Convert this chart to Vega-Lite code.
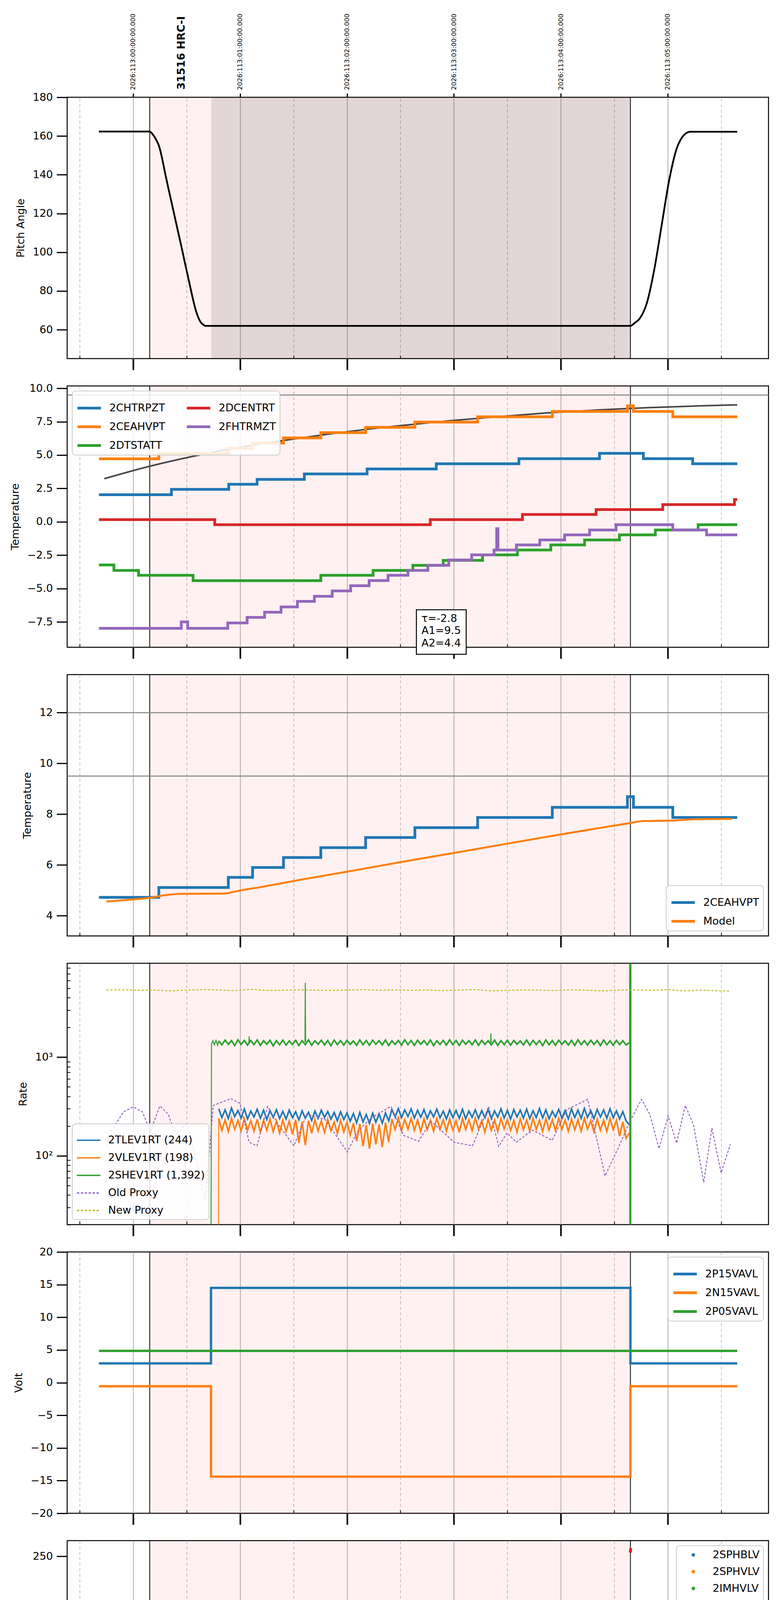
{
  "$schema": "https://vega.github.io/schema/vega-lite/v6.json",
  "description": "HRC obsid 31516 monitoring plots",
  "padding": {"left": 24, "top": 33, "right": 30, "bottom": 5},
  "background": "white",
  "spacing": 70,
  "bounds": "flush",
  "config": {
    "font": "DejaVu Sans",
    "view": {"stroke": "black", "strokeWidth": 2.5},
    "axis": {
      "domain": false, "grid": false,
      "labelFont": "DejaVu Sans", "labelFontSize": 27, "labelColor": "black", "labelPadding": 10,
      "labelFlush": false, "labelOverlap": false, "labelLimit": 400,
      "titleFont": "DejaVu Sans", "titleFontSize": 27, "titleFontWeight": "normal", "titleColor": "black", "titlePadding": 16,
      "tickColor": "black", "tickSize": 27, "tickWidth": 3
    },
    "legend": {
      "labelFont": "DejaVu Sans", "labelFontSize": 27, "labelColor": "black", "labelLimit": 1000, "labelOffset": 18,
      "padding": 10, "rowPadding": -30, "strokeColor": "#cccccc", "strokeWidth": 2,
      "fillColor": "rgba(255,255,255,0.85)", "cornerRadius": 8, "offset": 13,
      "symbolType": "stroke", "symbolStrokeWidth": 7, "symbolSize": 3600
    }
  },
  "resolve": {
    "scale": {"x": "independent", "y": "independent", "color": "independent", "strokeDash": "independent"},
    "legend": {"color": "independent", "strokeDash": "independent"}
  },
  "datasets": {
    "shade": [{"t": 0.155, "t2": 4.651}],
    "dark": [{"t": 0.731, "t2": 4.651}],
    "vl": [{"t": 0.155}, {"t": 4.651}],
    "hl2": [{"t": -0.6172, "t2": 5.9423, "v": 9.5}],
    "hl3": [{"t": -0.6172, "t2": 5.9423, "v": 12}, {"t": -0.6172, "t2": 5.9423, "v": 9.5}],
    "pitch": [
      {"t": -0.32, "v": 162.3}, {"t": 0.149, "v": 162.3}, {"t": 0.2, "v": 159.5}, {"t": 0.242, "v": 154.8},
      {"t": 0.312, "v": 137.4}, {"t": 0.382, "v": 120.0}, {"t": 0.452, "v": 102.7}, {"t": 0.521, "v": 85.3},
      {"t": 0.591, "v": 69.1}, {"t": 0.63, "v": 64.0}, {"t": 0.661, "v": 62.4}, {"t": 0.675, "v": 62.0},
      {"t": 4.651, "v": 62.0}, {"t": 4.69, "v": 63.5}, {"t": 4.735, "v": 65.6}, {"t": 4.804, "v": 73.7},
      {"t": 4.874, "v": 91.1}, {"t": 4.944, "v": 114.3}, {"t": 5.014, "v": 137.4}, {"t": 5.084, "v": 153.6},
      {"t": 5.13, "v": 159.0}, {"t": 5.154, "v": 160.6}, {"t": 5.21, "v": 162.2}, {"t": 5.65, "v": 162.2}
    ],
    "t2": [
      {"t": -0.32, "v": 2.03, "s": "2CHTRPZT"}, {"t": 0.358, "v": 2.43, "s": "2CHTRPZT"}, {"t": 0.894, "v": 2.81, "s": "2CHTRPZT"},
      {"t": 1.159, "v": 3.18, "s": "2CHTRPZT"}, {"t": 1.601, "v": 3.59, "s": "2CHTRPZT"}, {"t": 2.188, "v": 3.96, "s": "2CHTRPZT"},
      {"t": 2.835, "v": 4.35, "s": "2CHTRPZT"}, {"t": 3.608, "v": 4.73, "s": "2CHTRPZT"}, {"t": 4.362, "v": 5.13, "s": "2CHTRPZT"},
      {"t": 4.772, "v": 4.73, "s": "2CHTRPZT"}, {"t": 5.233, "v": 4.35, "s": "2CHTRPZT"}, {"t": 5.65, "v": 4.35, "s": "2CHTRPZT"},
      {"t": -0.32, "v": 4.72, "s": "2CEAHVPT"}, {"t": 0.24, "v": 5.11, "s": "2CEAHVPT"}, {"t": 0.89, "v": 5.51, "s": "2CEAHVPT"},
      {"t": 1.117, "v": 5.9, "s": "2CEAHVPT"}, {"t": 1.406, "v": 6.29, "s": "2CEAHVPT"}, {"t": 1.755, "v": 6.68, "s": "2CEAHVPT"},
      {"t": 2.174, "v": 7.08, "s": "2CEAHVPT"}, {"t": 2.635, "v": 7.47, "s": "2CEAHVPT"}, {"t": 3.222, "v": 7.87, "s": "2CEAHVPT"},
      {"t": 3.92, "v": 8.27, "s": "2CEAHVPT"}, {"t": 4.623, "v": 8.69, "s": "2CEAHVPT"}, {"t": 4.679, "v": 8.27, "s": "2CEAHVPT"},
      {"t": 5.047, "v": 7.87, "s": "2CEAHVPT"}, {"t": 5.65, "v": 7.87, "s": "2CEAHVPT"},
      {"t": -0.32, "v": -3.23, "s": "2DTSTATT"}, {"t": -0.18, "v": -3.64, "s": "2DTSTATT"}, {"t": 0.05, "v": -4.01, "s": "2DTSTATT"},
      {"t": 0.56, "v": -4.41, "s": "2DTSTATT"}, {"t": 1.755, "v": -4.01, "s": "2DTSTATT"}, {"t": 2.244, "v": -3.64, "s": "2DTSTATT"},
      {"t": 2.616, "v": -3.26, "s": "2DTSTATT"}, {"t": 2.9, "v": -2.89, "s": "2DTSTATT"}, {"t": 3.268, "v": -2.48, "s": "2DTSTATT"},
      {"t": 3.594, "v": -2.11, "s": "2DTSTATT"}, {"t": 3.906, "v": -1.73, "s": "2DTSTATT"}, {"t": 4.222, "v": -1.36, "s": "2DTSTATT"},
      {"t": 4.548, "v": -0.98, "s": "2DTSTATT"}, {"t": 4.884, "v": -0.61, "s": "2DTSTATT"}, {"t": 5.284, "v": -0.22, "s": "2DTSTATT"},
      {"t": 5.65, "v": -0.22, "s": "2DTSTATT"},
      {"t": -0.32, "v": 0.16, "s": "2DCENTRT"}, {"t": 0.763, "v": -0.22, "s": "2DCENTRT"}, {"t": 2.779, "v": 0.16, "s": "2DCENTRT"},
      {"t": 3.641, "v": 0.55, "s": "2DCENTRT"}, {"t": 4.33, "v": 0.92, "s": "2DCENTRT"}, {"t": 4.953, "v": 1.29, "s": "2DCENTRT"},
      {"t": 5.624, "v": 1.67, "s": "2DCENTRT"}, {"t": 5.65, "v": 1.67, "s": "2DCENTRT"},
      {"t": -0.32, "v": -7.98, "s": "2FHTRMZT"}, {"t": 0.45, "v": -7.5, "s": "2FHTRMZT"}, {"t": 0.51, "v": -7.98, "s": "2FHTRMZT"},
      {"t": 0.885, "v": -7.58, "s": "2FHTRMZT"}, {"t": 1.066, "v": -7.16, "s": "2FHTRMZT"}, {"t": 1.229, "v": -6.77, "s": "2FHTRMZT"},
      {"t": 1.383, "v": -6.38, "s": "2FHTRMZT"}, {"t": 1.536, "v": -5.96, "s": "2FHTRMZT"}, {"t": 1.695, "v": -5.58, "s": "2FHTRMZT"},
      {"t": 1.862, "v": -5.18, "s": "2FHTRMZT"}, {"t": 2.034, "v": -4.79, "s": "2FHTRMZT"}, {"t": 2.207, "v": -4.4, "s": "2FHTRMZT"},
      {"t": 2.384, "v": -4.01, "s": "2FHTRMZT"}, {"t": 2.57, "v": -3.64, "s": "2FHTRMZT"}, {"t": 2.756, "v": -3.26, "s": "2FHTRMZT"},
      {"t": 2.952, "v": -2.86, "s": "2FHTRMZT"}, {"t": 3.166, "v": -2.48, "s": "2FHTRMZT"}, {"t": 3.375, "v": -2.11, "s": "2FHTRMZT"},
      {"t": 3.4, "v": -0.52, "s": "2FHTRMZT"}, {"t": 3.412, "v": -2.11, "s": "2FHTRMZT"}, {"t": 3.585, "v": -1.73, "s": "2FHTRMZT"},
      {"t": 3.803, "v": -1.36, "s": "2FHTRMZT"}, {"t": 4.036, "v": -0.98, "s": "2FHTRMZT"}, {"t": 4.269, "v": -0.61, "s": "2FHTRMZT"},
      {"t": 4.516, "v": -0.22, "s": "2FHTRMZT"}, {"t": 5.047, "v": -0.61, "s": "2FHTRMZT"}, {"t": 5.363, "v": -0.98, "s": "2FHTRMZT"},
      {"t": 5.65, "v": -0.98, "s": "2FHTRMZT"}
    ],
    "m2": [
      {"t": -0.27, "v": 3.23}, {"t": 0.149, "v": 4.15}, {"t": 0.615, "v": 5.0}, {"t": 1.08, "v": 5.7},
      {"t": 1.546, "v": 6.25}, {"t": 2.011, "v": 6.76}, {"t": 2.477, "v": 7.19}, {"t": 2.942, "v": 7.56},
      {"t": 3.408, "v": 7.87}, {"t": 3.873, "v": 8.16}, {"t": 4.339, "v": 8.38}, {"t": 4.804, "v": 8.55},
      {"t": 5.27, "v": 8.68}, {"t": 5.65, "v": 8.76}
    ],
    "box": [{"t": 2.649, "t2": 3.115, "v": -6.59, "v2": -9.93}],
    "tau": [
      {"t": 2.696, "v": -7.27, "label": "τ=-2.8"},
      {"t": 2.696, "v": -8.18, "label": "A1=9.5"},
      {"t": 2.696, "v": -9.12, "label": "A2=4.4"}
    ],
    "t3": [
      {"t": -0.32, "v": 4.72, "s": "2CEAHVPT"}, {"t": 0.24, "v": 5.11, "s": "2CEAHVPT"}, {"t": 0.89, "v": 5.51, "s": "2CEAHVPT"},
      {"t": 1.117, "v": 5.9, "s": "2CEAHVPT"}, {"t": 1.406, "v": 6.29, "s": "2CEAHVPT"}, {"t": 1.755, "v": 6.68, "s": "2CEAHVPT"},
      {"t": 2.174, "v": 7.08, "s": "2CEAHVPT"}, {"t": 2.635, "v": 7.47, "s": "2CEAHVPT"}, {"t": 3.222, "v": 7.87, "s": "2CEAHVPT"},
      {"t": 3.92, "v": 8.27, "s": "2CEAHVPT"}, {"t": 4.623, "v": 8.69, "s": "2CEAHVPT"}, {"t": 4.679, "v": 8.27, "s": "2CEAHVPT"},
      {"t": 5.047, "v": 7.87, "s": "2CEAHVPT"}, {"t": 5.65, "v": 7.87, "s": "2CEAHVPT"}
    ],
    "m3": [
      {"t": -0.25, "v": 4.56, "s": "Model"}, {"t": 0.0, "v": 4.64, "s": "Model"}, {"t": 0.149, "v": 4.7, "s": "Model"},
      {"t": 0.289, "v": 4.8, "s": "Model"}, {"t": 0.45, "v": 4.86, "s": "Model"}, {"t": 0.847, "v": 4.87, "s": "Model"},
      {"t": 0.987, "v": 4.98, "s": "Model"}, {"t": 1.2, "v": 5.13, "s": "Model"}, {"t": 1.546, "v": 5.4, "s": "Model"},
      {"t": 2.011, "v": 5.74, "s": "Model"}, {"t": 2.477, "v": 6.09, "s": "Model"}, {"t": 2.942, "v": 6.43, "s": "Model"},
      {"t": 3.408, "v": 6.77, "s": "Model"}, {"t": 3.873, "v": 7.11, "s": "Model"}, {"t": 4.339, "v": 7.44, "s": "Model"},
      {"t": 4.62, "v": 7.63, "s": "Model"}, {"t": 4.781, "v": 7.73, "s": "Model"}, {"t": 4.991, "v": 7.74, "s": "Model"},
      {"t": 5.13, "v": 7.77, "s": "Model"}, {"t": 5.27, "v": 7.8, "s": "Model"}, {"t": 5.6, "v": 7.81, "s": "Model"}
    ],
    "rfold": [
      {"t": 0.80, "B": 300, "O": 238, "G": 1460}, {"t": 0.83, "B": 244, "O": 180, "G": 1330}, {"t": 0.86, "B": 292, "O": 231, "G": 1490},
      {"t": 0.89, "B": 238, "O": 176, "G": 1352}, {"t": 0.92, "B": 305, "O": 240, "G": 1472}, {"t": 0.95, "B": 249, "O": 185, "G": 1310},
      {"t": 0.98, "B": 287, "O": 228, "G": 1500}, {"t": 1.01, "B": 241, "O": 178, "G": 1345}, {"t": 1.04, "B": 298, "O": 236, "G": 1480},
      {"t": 1.07, "B": 236, "O": 182, "G": 1322}, {"t": 1.10, "B": 284, "O": 226, "G": 1476}, {"t": 1.13, "B": 247, "O": 177, "G": 1340},
      {"t": 1.16, "B": 296, "O": 234, "G": 1494}, {"t": 1.19, "B": 240, "O": 172, "G": 1315}, {"t": 1.22, "B": 290, "O": 229, "G": 1466},
      {"t": 1.25, "B": 233, "O": 181, "G": 1350}, {"t": 1.28, "B": 287, "O": 236, "G": 1486}, {"t": 1.31, "B": 245, "O": 175, "G": 1300},
      {"t": 1.34, "B": 293, "O": 224, "G": 1470}, {"t": 1.37, "B": 238, "O": 170, "G": 1336}, {"t": 1.40, "B": 282, "O": 230, "G": 1490},
      {"t": 1.43, "B": 236, "O": 176, "G": 1326}, {"t": 1.46, "B": 290, "O": 225, "G": 1461}, {"t": 1.49, "B": 243, "O": 165, "G": 1344},
      {"t": 1.52, "B": 279, "O": 232, "G": 1481}, {"t": 1.55, "B": 231, "O": 135, "G": 1311}, {"t": 1.58, "B": 286, "O": 221, "G": 1470},
      {"t": 1.61, "B": 240, "O": 128, "G": 1339}, {"t": 1.64, "B": 276, "O": 227, "G": 1495}, {"t": 1.67, "B": 228, "O": 169, "G": 1320},
      {"t": 1.70, "B": 284, "O": 232, "G": 1466}, {"t": 1.73, "B": 239, "O": 178, "G": 1350}, {"t": 1.76, "B": 290, "O": 226, "G": 1484},
      {"t": 1.79, "B": 244, "O": 172, "G": 1331}, {"t": 1.82, "B": 281, "O": 234, "G": 1475}, {"t": 1.85, "B": 235, "O": 179, "G": 1306},
      {"t": 1.88, "B": 275, "O": 220, "G": 1490}, {"t": 1.91, "B": 226, "O": 168, "G": 1341}, {"t": 1.94, "B": 279, "O": 228, "G": 1470},
      {"t": 1.97, "B": 233, "O": 174, "G": 1326}, {"t": 2.00, "B": 272, "O": 219, "G": 1480}, {"t": 2.03, "B": 224, "O": 162, "G": 1346},
      {"t": 2.06, "B": 268, "O": 214, "G": 1460}, {"t": 2.09, "B": 216, "O": 140, "G": 1316}, {"t": 2.12, "B": 275, "O": 210, "G": 1495},
      {"t": 2.15, "B": 220, "O": 125, "G": 1336}, {"t": 2.18, "B": 262, "O": 205, "G": 1475}, {"t": 2.21, "B": 212, "O": 118, "G": 1320},
      {"t": 2.24, "B": 270, "O": 212, "G": 1485}, {"t": 2.27, "B": 218, "O": 130, "G": 1350}, {"t": 2.30, "B": 266, "O": 208, "G": 1470},
      {"t": 2.33, "B": 214, "O": 122, "G": 1330}, {"t": 2.36, "B": 272, "O": 218, "G": 1490}, {"t": 2.39, "B": 225, "O": 138, "G": 1310},
      {"t": 2.42, "B": 295, "O": 236, "G": 1465}, {"t": 2.45, "B": 248, "O": 184, "G": 1345}, {"t": 2.48, "B": 301, "O": 242, "G": 1480},
      {"t": 2.51, "B": 244, "O": 179, "G": 1325}, {"t": 2.54, "B": 292, "O": 233, "G": 1500}, {"t": 2.57, "B": 250, "O": 186, "G": 1340},
      {"t": 2.60, "B": 298, "O": 239, "G": 1475}, {"t": 2.63, "B": 241, "O": 181, "G": 1315}, {"t": 2.66, "B": 289, "O": 230, "G": 1485},
      {"t": 2.69, "B": 246, "O": 176, "G": 1350}, {"t": 2.72, "B": 294, "O": 237, "G": 1470}, {"t": 2.75, "B": 239, "O": 183, "G": 1330},
      {"t": 2.78, "B": 286, "O": 228, "G": 1490}, {"t": 2.81, "B": 247, "O": 177, "G": 1310}, {"t": 2.84, "B": 297, "O": 240, "G": 1465},
      {"t": 2.87, "B": 242, "O": 185, "G": 1345}, {"t": 2.90, "B": 283, "O": 231, "G": 1480}, {"t": 2.93, "B": 236, "O": 178, "G": 1325},
      {"t": 2.96, "B": 291, "O": 236, "G": 1500}, {"t": 2.99, "B": 244, "O": 182, "G": 1340}, {"t": 3.02, "B": 288, "O": 227, "G": 1475},
      {"t": 3.05, "B": 240, "O": 173, "G": 1315}, {"t": 3.08, "B": 296, "O": 238, "G": 1485}, {"t": 3.11, "B": 237, "O": 184, "G": 1350},
      {"t": 3.14, "B": 284, "O": 232, "G": 1470}, {"t": 3.17, "B": 245, "O": 179, "G": 1335}, {"t": 3.20, "B": 292, "O": 241, "G": 1495},
      {"t": 3.23, "B": 239, "O": 186, "G": 1320}, {"t": 3.26, "B": 287, "O": 227, "G": 1480}, {"t": 3.29, "B": 243, "O": 173, "G": 1345},
      {"t": 3.32, "B": 293, "O": 235, "G": 1465}, {"t": 3.35, "B": 238, "O": 181, "G": 1330}, {"t": 3.38, "B": 285, "O": 230, "G": 1490},
      {"t": 3.41, "B": 246, "O": 176, "G": 1315}, {"t": 3.44, "B": 299, "O": 239, "G": 1470}, {"t": 3.47, "B": 241, "O": 187, "G": 1340},
      {"t": 3.50, "B": 289, "O": 233, "G": 1485}, {"t": 3.53, "B": 235, "O": 180, "G": 1325}, {"t": 3.56, "B": 294, "O": 228, "G": 1475},
      {"t": 3.59, "B": 247, "O": 174, "G": 1350}, {"t": 3.62, "B": 290, "O": 236, "G": 1460}, {"t": 3.65, "B": 240, "O": 183, "G": 1330},
      {"t": 3.68, "B": 297, "O": 231, "G": 1490}, {"t": 3.71, "B": 238, "O": 178, "G": 1320}, {"t": 3.74, "B": 286, "O": 240, "G": 1480},
      {"t": 3.77, "B": 244, "O": 185, "G": 1345}, {"t": 3.80, "B": 301, "O": 229, "G": 1470}, {"t": 3.83, "B": 242, "O": 176, "G": 1310},
      {"t": 3.86, "B": 292, "O": 237, "G": 1495}, {"t": 3.89, "B": 237, "O": 182, "G": 1335}, {"t": 3.92, "B": 283, "O": 232, "G": 1475},
      {"t": 3.95, "B": 246, "O": 179, "G": 1320}, {"t": 3.98, "B": 295, "O": 240, "G": 1485}, {"t": 4.01, "B": 241, "O": 185, "G": 1350},
      {"t": 4.04, "B": 288, "O": 229, "G": 1465}, {"t": 4.07, "B": 236, "O": 177, "G": 1330}, {"t": 4.10, "B": 298, "O": 236, "G": 1480},
      {"t": 4.13, "B": 244, "O": 183, "G": 1315}, {"t": 4.16, "B": 290, "O": 231, "G": 1500}, {"t": 4.19, "B": 239, "O": 178, "G": 1340},
      {"t": 4.22, "B": 302, "O": 239, "G": 1470}, {"t": 4.25, "B": 245, "O": 186, "G": 1325}, {"t": 4.28, "B": 287, "O": 227, "G": 1485},
      {"t": 4.31, "B": 238, "O": 175, "G": 1345}, {"t": 4.34, "B": 294, "O": 235, "G": 1475}, {"t": 4.37, "B": 247, "O": 181, "G": 1310},
      {"t": 4.40, "B": 291, "O": 230, "G": 1490}, {"t": 4.43, "B": 240, "O": 176, "G": 1335}, {"t": 4.46, "B": 299, "O": 238, "G": 1465},
      {"t": 4.49, "B": 243, "O": 184, "G": 1320}, {"t": 4.52, "B": 285, "O": 229, "G": 1480}, {"t": 4.55, "B": 236, "O": 158, "G": 1340},
      {"t": 4.58, "B": 280, "O": 221, "G": 1470}, {"t": 4.61, "B": 226, "O": 150, "G": 1330}, {"t": 4.64, "B": 205, "O": 170, "G": 1400}
    ],
    "rx": [
      {"k": "G", "p": 1, "t": 0.72, "v": 10}, {"k": "G", "p": 1, "t": 0.728, "v": 10}, {"k": "G", "p": 1, "t": 0.733, "v": 1350},
      {"k": "G", "p": 1, "t": 0.745, "v": 1470}, {"k": "G", "p": 1, "t": 0.76, "v": 1330}, {"k": "G", "p": 1, "t": 0.775, "v": 1480},
      {"k": "G", "p": 1, "t": 0.79, "v": 1320}, {"k": "G", "p": 1, "t": 0.8, "v": 1460},
      {"k": "O", "p": 2, "t": 0.798, "v": 10}, {"k": "O", "p": 2, "t": 0.8, "v": 238},
      {"k": "G", "p": 3, "t": 1.082, "v": 1400}, {"k": "G", "p": 3, "t": 1.085, "v": 1620}, {"k": "G", "p": 3, "t": 1.088, "v": 1400},
      {"k": "G", "p": 4, "t": 1.607, "v": 1420}, {"k": "G", "p": 4, "t": 1.61, "v": 5680}, {"k": "G", "p": 4, "t": 1.613, "v": 1420},
      {"k": "G", "p": 5, "t": 3.343, "v": 1400}, {"k": "G", "p": 5, "t": 3.346, "v": 1740}, {"k": "G", "p": 5, "t": 3.349, "v": 1400},
      {"k": "G", "p": 6, "t": 4.64, "v": 1400}, {"k": "G", "p": 6, "t": 4.643, "v": 1390}, {"k": "G", "p": 6, "t": 4.644, "v": 20000},
      {"k": "G", "p": 6, "t": 4.645, "v": 10}, {"k": "G", "p": 6, "t": 4.646, "v": 20000}, {"k": "G", "p": 6, "t": 4.647, "v": 10},
      {"k": "G", "p": 6, "t": 4.648, "v": 20000}, {"k": "G", "p": 6, "t": 4.649, "v": 10}, {"k": "G", "p": 6, "t": 4.65, "v": 20000},
      {"k": "G", "p": 6, "t": 4.651, "v": 10}, {"k": "G", "p": 6, "t": 4.652, "v": 20000}, {"k": "G", "p": 6, "t": 4.653, "v": 10},
      {"k": "G", "p": 6, "t": 4.654, "v": 20000}, {"k": "G", "p": 6, "t": 4.655, "v": 10}, {"k": "G", "p": 6, "t": 4.656, "v": 20000},
      {"k": "P", "p": 7, "t": -0.25, "v": 124}, {"k": "P", "p": 7, "t": -0.17, "v": 204}, {"k": "P", "p": 7, "t": -0.09, "v": 278},
      {"k": "P", "p": 7, "t": 0.0, "v": 313}, {"k": "P", "p": 7, "t": 0.087, "v": 278}, {"k": "P", "p": 7, "t": 0.16, "v": 176},
      {"k": "P", "p": 7, "t": 0.25, "v": 320}, {"k": "P", "p": 7, "t": 0.33, "v": 262}, {"k": "P", "p": 7, "t": 0.396, "v": 161},
      {"k": "P", "p": 7, "t": 0.504, "v": 215}, {"k": "P", "p": 7, "t": 0.676, "v": 36}, {"k": "P", "p": 7, "t": 0.749, "v": 323},
      {"k": "P", "p": 7, "t": 0.913, "v": 380}, {"k": "P", "p": 7, "t": 0.999, "v": 340}, {"k": "P", "p": 7, "t": 1.085, "v": 137},
      {"k": "P", "p": 7, "t": 1.158, "v": 126}, {"k": "P", "p": 7, "t": 1.258, "v": 316}, {"k": "P", "p": 7, "t": 1.365, "v": 202},
      {"k": "P", "p": 7, "t": 1.503, "v": 126}, {"k": "P", "p": 7, "t": 1.624, "v": 263}, {"k": "P", "p": 7, "t": 1.796, "v": 233},
      {"k": "P", "p": 7, "t": 2.003, "v": 109}, {"k": "P", "p": 7, "t": 2.097, "v": 175}, {"k": "P", "p": 7, "t": 2.226, "v": 242},
      {"k": "P", "p": 7, "t": 2.412, "v": 316}, {"k": "P", "p": 7, "t": 2.528, "v": 161}, {"k": "P", "p": 7, "t": 2.67, "v": 140},
      {"k": "P", "p": 7, "t": 2.786, "v": 224}, {"k": "P", "p": 7, "t": 3.002, "v": 137}, {"k": "P", "p": 7, "t": 3.174, "v": 126},
      {"k": "P", "p": 7, "t": 3.325, "v": 316}, {"k": "P", "p": 7, "t": 3.419, "v": 124}, {"k": "P", "p": 7, "t": 3.497, "v": 171},
      {"k": "P", "p": 7, "t": 3.583, "v": 137}, {"k": "P", "p": 7, "t": 3.734, "v": 182}, {"k": "P", "p": 7, "t": 3.919, "v": 143},
      {"k": "P", "p": 7, "t": 4.057, "v": 294}, {"k": "P", "p": 7, "t": 4.251, "v": 373}, {"k": "P", "p": 7, "t": 4.414, "v": 62.6},
      {"k": "P", "p": 7, "t": 4.531, "v": 116}, {"k": "P", "p": 7, "t": 4.638, "v": 214}, {"k": "P", "p": 7, "t": 4.755, "v": 373},
      {"k": "P", "p": 7, "t": 4.832, "v": 263}, {"k": "P", "p": 7, "t": 4.918, "v": 118}, {"k": "P", "p": 7, "t": 5.004, "v": 253},
      {"k": "P", "p": 7, "t": 5.082, "v": 134}, {"k": "P", "p": 7, "t": 5.164, "v": 323}, {"k": "P", "p": 7, "t": 5.241, "v": 206},
      {"k": "P", "p": 7, "t": 5.336, "v": 53.6}, {"k": "P", "p": 7, "t": 5.413, "v": 190}, {"k": "P", "p": 7, "t": 5.499, "v": 67},
      {"k": "P", "p": 7, "t": 5.586, "v": 131},
      {"k": "Y", "p": 8, "t": -0.25, "v": 4800}, {"k": "Y", "p": 8, "t": -0.1, "v": 4820}, {"k": "Y", "p": 8, "t": 0.05, "v": 4760},
      {"k": "Y", "p": 8, "t": 0.2, "v": 4790}, {"k": "Y", "p": 8, "t": 0.35, "v": 4700}, {"k": "Y", "p": 8, "t": 0.5, "v": 4780},
      {"k": "Y", "p": 8, "t": 0.65, "v": 4850}, {"k": "Y", "p": 8, "t": 0.8, "v": 4800}, {"k": "Y", "p": 8, "t": 0.95, "v": 4720},
      {"k": "Y", "p": 8, "t": 1.1, "v": 4880}, {"k": "Y", "p": 8, "t": 1.25, "v": 4750}, {"k": "Y", "p": 8, "t": 1.4, "v": 4770},
      {"k": "Y", "p": 8, "t": 1.55, "v": 4820}, {"k": "Y", "p": 8, "t": 1.7, "v": 4780}, {"k": "Y", "p": 8, "t": 1.85, "v": 4740},
      {"k": "Y", "p": 8, "t": 2.0, "v": 4800}, {"k": "Y", "p": 8, "t": 2.15, "v": 4840}, {"k": "Y", "p": 8, "t": 2.3, "v": 4770},
      {"k": "Y", "p": 8, "t": 2.45, "v": 4810}, {"k": "Y", "p": 8, "t": 2.6, "v": 4760}, {"k": "Y", "p": 8, "t": 2.75, "v": 4800},
      {"k": "Y", "p": 8, "t": 2.9, "v": 4730}, {"k": "Y", "p": 8, "t": 3.05, "v": 4790}, {"k": "Y", "p": 8, "t": 3.2, "v": 4850},
      {"k": "Y", "p": 8, "t": 3.35, "v": 4700}, {"k": "Y", "p": 8, "t": 3.5, "v": 4760}, {"k": "Y", "p": 8, "t": 3.65, "v": 4800},
      {"k": "Y", "p": 8, "t": 3.8, "v": 4780}, {"k": "Y", "p": 8, "t": 3.95, "v": 4740}, {"k": "Y", "p": 8, "t": 4.1, "v": 4820},
      {"k": "Y", "p": 8, "t": 4.25, "v": 4770}, {"k": "Y", "p": 8, "t": 4.4, "v": 4700}, {"k": "Y", "p": 8, "t": 4.55, "v": 4790},
      {"k": "Y", "p": 8, "t": 4.7, "v": 4810}, {"k": "Y", "p": 8, "t": 4.85, "v": 4760}, {"k": "Y", "p": 8, "t": 5.0, "v": 4840},
      {"k": "Y", "p": 8, "t": 5.15, "v": 4700}, {"k": "Y", "p": 8, "t": 5.3, "v": 4790}, {"k": "Y", "p": 8, "t": 5.45, "v": 4720},
      {"k": "Y", "p": 8, "t": 5.586, "v": 4680}
    ],
    "volt": [
      {"t": -0.32, "v": 2.95, "s": "2P15VAVL"}, {"t": 0.728, "v": 14.5, "s": "2P15VAVL"}, {"t": 4.651, "v": 2.95, "s": "2P15VAVL"}, {"t": 5.65, "v": 2.95, "s": "2P15VAVL"},
      {"t": -0.32, "v": -0.56, "s": "2N15VAVL"}, {"t": 0.728, "v": -14.4, "s": "2N15VAVL"}, {"t": 4.651, "v": -0.56, "s": "2N15VAVL"}, {"t": 5.65, "v": -0.56, "s": "2N15VAVL"},
      {"t": -0.32, "v": 4.86, "s": "2P05VAVL"}, {"t": 5.65, "v": 4.86, "s": "2P05VAVL"}
    ],
    "hvflat": [
      {"t": 0.80, "2IMHVLV": 78.7, "2IMHBLV": 85.6}, {"t": 0.83, "2IMHVLV": 78.7, "2IMHBLV": 85.6}, {"t": 0.86, "2IMHVLV": 78.7, "2IMHBLV": 85.6},
      {"t": 0.89, "2IMHVLV": 78.7, "2IMHBLV": 85.6}, {"t": 0.92, "2IMHVLV": 78.7, "2IMHBLV": 85.6}, {"t": 0.95, "2IMHVLV": 78.7, "2IMHBLV": 85.6},
      {"t": 0.98, "2IMHVLV": 78.7, "2IMHBLV": 85.6}, {"t": 1.01, "2IMHVLV": 78.7, "2IMHBLV": 85.6}, {"t": 1.04, "2IMHVLV": 78.7, "2IMHBLV": 85.6},
      {"t": 1.07, "2IMHVLV": 78.7, "2IMHBLV": 85.6}, {"t": 1.10, "2IMHVLV": 78.7, "2IMHBLV": 85.6}, {"t": 1.13, "2IMHVLV": 78.7, "2IMHBLV": 85.6},
      {"t": 1.16, "2IMHVLV": 78.7, "2IMHBLV": 85.6}, {"t": 1.19, "2IMHVLV": 78.7, "2IMHBLV": 85.6}, {"t": 1.22, "2IMHVLV": 78.7, "2IMHBLV": 85.6},
      {"t": 1.25, "2IMHVLV": 78.7, "2IMHBLV": 85.6}, {"t": 1.28, "2IMHVLV": 78.7, "2IMHBLV": 85.6}, {"t": 1.31, "2IMHVLV": 78.7, "2IMHBLV": 85.6},
      {"t": 1.34, "2IMHVLV": 78.7, "2IMHBLV": 85.6}, {"t": 1.37, "2IMHVLV": 78.7, "2IMHBLV": 85.6}, {"t": 1.40, "2IMHVLV": 78.7, "2IMHBLV": 85.6},
      {"t": 1.43, "2IMHVLV": 78.7, "2IMHBLV": 85.6}, {"t": 1.46, "2IMHVLV": 78.7, "2IMHBLV": 85.6}, {"t": 1.49, "2IMHVLV": 78.7, "2IMHBLV": 85.6},
      {"t": 1.52, "2IMHVLV": 78.7, "2IMHBLV": 85.6}, {"t": 1.55, "2IMHVLV": 78.7, "2IMHBLV": 85.6}, {"t": 1.58, "2IMHVLV": 78.7, "2IMHBLV": 85.6},
      {"t": 1.61, "2IMHVLV": 78.7, "2IMHBLV": 85.6}, {"t": 1.64, "2IMHVLV": 78.7, "2IMHBLV": 85.6}, {"t": 1.67, "2IMHVLV": 78.7, "2IMHBLV": 85.6},
      {"t": 1.70, "2IMHVLV": 78.7, "2IMHBLV": 85.6}, {"t": 1.73, "2IMHVLV": 78.7, "2IMHBLV": 85.6}, {"t": 1.76, "2IMHVLV": 78.7, "2IMHBLV": 85.6},
      {"t": 1.79, "2IMHVLV": 78.7, "2IMHBLV": 85.6}, {"t": 1.82, "2IMHVLV": 78.7, "2IMHBLV": 85.6}, {"t": 1.85, "2IMHVLV": 78.7, "2IMHBLV": 85.6},
      {"t": 1.88, "2IMHVLV": 78.7, "2IMHBLV": 85.6}, {"t": 1.91, "2IMHVLV": 78.7, "2IMHBLV": 85.6}, {"t": 1.94, "2IMHVLV": 78.7, "2IMHBLV": 85.6},
      {"t": 1.97, "2IMHVLV": 78.7, "2IMHBLV": 85.6}, {"t": 2.00, "2IMHVLV": 78.7, "2IMHBLV": 85.6}, {"t": 2.03, "2IMHVLV": 78.7, "2IMHBLV": 85.6},
      {"t": 2.06, "2IMHVLV": 78.7, "2IMHBLV": 85.6}, {"t": 2.09, "2IMHVLV": 78.7, "2IMHBLV": 85.6}, {"t": 2.12, "2IMHVLV": 78.7, "2IMHBLV": 85.6},
      {"t": 2.15, "2IMHVLV": 78.7, "2IMHBLV": 85.6}, {"t": 2.18, "2IMHVLV": 78.7, "2IMHBLV": 85.6}, {"t": 2.21, "2IMHVLV": 78.7, "2IMHBLV": 85.6},
      {"t": 2.24, "2IMHVLV": 78.7, "2IMHBLV": 85.6}, {"t": 2.27, "2IMHVLV": 78.7, "2IMHBLV": 85.6}, {"t": 2.30, "2IMHVLV": 78.7, "2IMHBLV": 85.6},
      {"t": 2.33, "2IMHVLV": 78.7, "2IMHBLV": 85.6}, {"t": 2.36, "2IMHVLV": 78.7, "2IMHBLV": 85.6}, {"t": 2.39, "2IMHVLV": 78.7, "2IMHBLV": 85.6},
      {"t": 2.42, "2IMHVLV": 78.7, "2IMHBLV": 85.6}, {"t": 2.45, "2IMHVLV": 78.7, "2IMHBLV": 85.6}, {"t": 2.48, "2IMHVLV": 78.7, "2IMHBLV": 85.6},
      {"t": 2.51, "2IMHVLV": 78.7, "2IMHBLV": 85.6}, {"t": 2.54, "2IMHVLV": 78.7, "2IMHBLV": 85.6}, {"t": 2.57, "2IMHVLV": 78.7, "2IMHBLV": 85.6},
      {"t": 2.60, "2IMHVLV": 78.7, "2IMHBLV": 85.6}, {"t": 2.63, "2IMHVLV": 78.7, "2IMHBLV": 85.6}, {"t": 2.66, "2IMHVLV": 78.7, "2IMHBLV": 85.6},
      {"t": 2.69, "2IMHVLV": 78.7, "2IMHBLV": 85.6}, {"t": 2.72, "2IMHVLV": 78.7, "2IMHBLV": 85.6}, {"t": 2.75, "2IMHVLV": 78.7, "2IMHBLV": 85.6},
      {"t": 2.78, "2IMHVLV": 78.7, "2IMHBLV": 85.6}, {"t": 2.81, "2IMHVLV": 78.7, "2IMHBLV": 85.6}, {"t": 2.84, "2IMHVLV": 78.7, "2IMHBLV": 85.6},
      {"t": 2.87, "2IMHVLV": 78.7, "2IMHBLV": 85.6}, {"t": 2.90, "2IMHVLV": 78.7, "2IMHBLV": 85.6}, {"t": 2.93, "2IMHVLV": 78.7, "2IMHBLV": 85.6},
      {"t": 2.96, "2IMHVLV": 78.7, "2IMHBLV": 85.6}, {"t": 2.99, "2IMHVLV": 78.7, "2IMHBLV": 85.6}, {"t": 3.02, "2IMHVLV": 78.7, "2IMHBLV": 85.6},
      {"t": 3.05, "2IMHVLV": 78.7, "2IMHBLV": 85.6}, {"t": 3.08, "2IMHVLV": 78.7, "2IMHBLV": 85.6}, {"t": 3.11, "2IMHVLV": 78.7, "2IMHBLV": 85.6},
      {"t": 3.14, "2IMHVLV": 78.7, "2IMHBLV": 85.6}, {"t": 3.17, "2IMHVLV": 78.7, "2IMHBLV": 85.6}, {"t": 3.20, "2IMHVLV": 78.7, "2IMHBLV": 85.6},
      {"t": 3.23, "2IMHVLV": 78.7, "2IMHBLV": 85.6}, {"t": 3.26, "2IMHVLV": 78.7, "2IMHBLV": 85.6}, {"t": 3.29, "2IMHVLV": 78.7, "2IMHBLV": 85.6},
      {"t": 3.32, "2IMHVLV": 78.7, "2IMHBLV": 85.6}, {"t": 3.35, "2IMHVLV": 78.7, "2IMHBLV": 85.6}, {"t": 3.38, "2IMHVLV": 78.7, "2IMHBLV": 85.6},
      {"t": 3.41, "2IMHVLV": 78.7, "2IMHBLV": 85.6}, {"t": 3.44, "2IMHVLV": 78.7, "2IMHBLV": 85.6}, {"t": 3.47, "2IMHVLV": 78.7, "2IMHBLV": 85.6},
      {"t": 3.50, "2IMHVLV": 78.7, "2IMHBLV": 85.6}, {"t": 3.53, "2IMHVLV": 78.7, "2IMHBLV": 85.6}, {"t": 3.56, "2IMHVLV": 78.7, "2IMHBLV": 85.6},
      {"t": 3.59, "2IMHVLV": 78.7, "2IMHBLV": 85.6}, {"t": 3.62, "2IMHVLV": 78.7, "2IMHBLV": 85.6}, {"t": 3.65, "2IMHVLV": 78.7, "2IMHBLV": 85.6},
      {"t": 3.68, "2IMHVLV": 78.7, "2IMHBLV": 85.6}, {"t": 3.71, "2IMHVLV": 78.7, "2IMHBLV": 85.6}, {"t": 3.74, "2IMHVLV": 78.7, "2IMHBLV": 85.6},
      {"t": 3.77, "2IMHVLV": 78.7, "2IMHBLV": 85.6}, {"t": 3.80, "2IMHVLV": 78.7, "2IMHBLV": 85.6}, {"t": 3.83, "2IMHVLV": 78.7, "2IMHBLV": 85.6},
      {"t": 3.86, "2IMHVLV": 78.7, "2IMHBLV": 85.6}, {"t": 3.89, "2IMHVLV": 78.7, "2IMHBLV": 85.6}, {"t": 3.92, "2IMHVLV": 78.7, "2IMHBLV": 85.6},
      {"t": 3.95, "2IMHVLV": 78.7, "2IMHBLV": 85.6}, {"t": 3.98, "2IMHVLV": 78.7, "2IMHBLV": 85.6}, {"t": 4.01, "2IMHVLV": 78.7, "2IMHBLV": 85.6},
      {"t": 4.04, "2IMHVLV": 78.7, "2IMHBLV": 85.6}, {"t": 4.07, "2IMHVLV": 78.7, "2IMHBLV": 85.6}, {"t": 4.10, "2IMHVLV": 78.7, "2IMHBLV": 85.6},
      {"t": 4.13, "2IMHVLV": 78.7, "2IMHBLV": 85.6}, {"t": 4.16, "2IMHVLV": 78.7, "2IMHBLV": 85.6}, {"t": 4.19, "2IMHVLV": 78.7, "2IMHBLV": 85.6},
      {"t": 4.22, "2IMHVLV": 78.7, "2IMHBLV": 85.6}, {"t": 4.25, "2IMHVLV": 78.7, "2IMHBLV": 85.6}, {"t": 4.28, "2IMHVLV": 78.7, "2IMHBLV": 85.6},
      {"t": 4.31, "2IMHVLV": 78.7, "2IMHBLV": 85.6}, {"t": 4.34, "2IMHVLV": 78.7, "2IMHBLV": 85.6}, {"t": 4.37, "2IMHVLV": 78.7, "2IMHBLV": 85.6},
      {"t": 4.40, "2IMHVLV": 78.7, "2IMHBLV": 85.6}, {"t": 4.43, "2IMHVLV": 78.7, "2IMHBLV": 85.6}, {"t": 4.46, "2IMHVLV": 78.7, "2IMHBLV": 85.6},
      {"t": 4.49, "2IMHVLV": 78.7, "2IMHBLV": 85.6}, {"t": 4.52, "2IMHVLV": 78.7, "2IMHBLV": 85.6}, {"t": 4.55, "2IMHVLV": 78.7, "2IMHBLV": 85.6},
      {"t": 4.58, "2IMHVLV": 78.7, "2IMHBLV": 85.6}, {"t": 4.61, "2IMHVLV": 78.7, "2IMHBLV": 85.6}, {"t": 4.64, "2IMHVLV": 78.7, "2IMHBLV": 85.6}
    ],
    "hvpts": [
      {"t": 0.754, "v": 99.5, "s": "2IMHVLV"}, {"t": 0.756, "v": 95, "s": "2IMHVLV"}, {"t": 0.759, "v": 90, "s": "2IMHVLV"},
      {"t": 0.763, "v": 86, "s": "2IMHVLV"}, {"t": 0.768, "v": 82, "s": "2IMHVLV"}, {"t": 0.775, "v": 79.5, "s": "2IMHVLV"},
      {"t": 2.67, "v": 126.8, "s": "2IMHVLV"}, {"t": 2.68, "v": 126.8, "s": "2IMHVLV"}, {"t": 2.69, "v": 126.8, "s": "2IMHVLV"},
      {"t": 2.70, "v": 126.8, "s": "2IMHVLV"}, {"t": 2.715, "v": 126.8, "s": "2IMHVLV"}, {"t": 2.73, "v": 126.8, "s": "2IMHVLV"},
      {"t": 3.98, "v": 126.8, "s": "2IMHVLV"}, {"t": 3.99, "v": 126.8, "s": "2IMHVLV"}, {"t": 4.0, "v": 126.8, "s": "2IMHVLV"},
      {"t": 4.04, "v": 126.8, "s": "2IMHVLV"}, {"t": 4.06, "v": 126.8, "s": "2IMHVLV"}, {"t": 4.18, "v": 126.8, "s": "2IMHVLV"},
      {"t": 0.754, "v": 126.8, "s": "2IMHBLV"}, {"t": 0.755, "v": 124.5, "s": "2IMHBLV"}, {"t": 0.756, "v": 119, "s": "2IMHBLV"},
      {"t": 0.758, "v": 112, "s": "2IMHBLV"}, {"t": 0.76, "v": 106.8, "s": "2IMHBLV"}, {"t": 0.763, "v": 101, "s": "2IMHBLV"},
      {"t": 0.767, "v": 96, "s": "2IMHBLV"}, {"t": 0.772, "v": 92, "s": "2IMHBLV"}, {"t": 0.779, "v": 88.6, "s": "2IMHBLV"},
      {"t": 0.787, "v": 86, "s": "2IMHBLV"},
      {"t": 2.67, "v": 78.7, "s": "2IMHBLV"}, {"t": 2.69, "v": 78.7, "s": "2IMHBLV"}, {"t": 2.705, "v": 78.7, "s": "2IMHBLV"},
      {"t": 2.72, "v": 78.7, "s": "2IMHBLV"}, {"t": 2.735, "v": 78.7, "s": "2IMHBLV"}, {"t": 2.75, "v": 78.7, "s": "2IMHBLV"},
      {"t": 2.77, "v": 78.7, "s": "2IMHBLV"}, {"t": 2.89, "v": 78.7, "s": "2IMHBLV"},
      {"t": 3.98, "v": 78.7, "s": "2IMHBLV"}, {"t": 3.995, "v": 78.7, "s": "2IMHBLV"}, {"t": 4.01, "v": 78.7, "s": "2IMHBLV"},
      {"t": 4.08, "v": 78.7, "s": "2IMHBLV"}, {"t": 4.18, "v": 78.7, "s": "2IMHBLV"},
      {"t": 4.651, "v": 255, "s": "2IMHBLV"}, {"t": 4.653, "v": 257, "s": "2IMHBLV"}
    ],
    "det": [
      {"t": 0.728, "v": -3, "s": "2SPINATM"}, {"t": 0.762, "v": 1.38, "s": "2SPINATM"}, {"t": 0.79, "v": 1.74, "s": "2SPINATM"},
      {"t": 2.66, "v": -3, "s": "2SPINATM"}, {"t": 2.67, "v": 1.74, "s": "2SPINATM"}, {"t": 2.68, "v": -3, "s": "2SPINATM"},
      {"t": 2.69, "v": 1.74, "s": "2SPINATM"}, {"t": 2.7, "v": -3, "s": "2SPINATM"}, {"t": 2.71, "v": 1.74, "s": "2SPINATM"},
      {"t": 2.72, "v": -3, "s": "2SPINATM"}, {"t": 2.73, "v": 1.74, "s": "2SPINATM"}, {"t": 2.74, "v": -3, "s": "2SPINATM"},
      {"t": 2.75, "v": 1.74, "s": "2SPINATM"}, {"t": 2.89, "v": -3, "s": "2SPINATM"}, {"t": 2.9, "v": 1.74, "s": "2SPINATM"},
      {"t": 2.91, "v": -3, "s": "2SPINATM"}, {"t": 2.92, "v": 1.74, "s": "2SPINATM"}, {"t": 2.93, "v": -3, "s": "2SPINATM"},
      {"t": 2.94, "v": 1.74, "s": "2SPINATM"}, {"t": 2.95, "v": -3, "s": "2SPINATM"}, {"t": 2.96, "v": 2.21, "s": "2SPINATM"},
      {"t": 2.97, "v": -3, "s": "2SPINATM"}, {"t": 2.98, "v": 2.21, "s": "2SPINATM"}, {"t": 2.99, "v": -3, "s": "2SPINATM"},
      {"t": 3.0, "v": 2.21, "s": "2SPINATM"}, {"t": 3.01, "v": -3, "s": "2SPINATM"}, {"t": 3.02, "v": 2.21, "s": "2SPINATM"},
      {"t": 3.03, "v": -3, "s": "2SPINATM"}, {"t": 3.045, "v": 2.21, "s": "2SPINATM"},
      {"t": 3.979, "v": -3, "s": "2SPINATM"}, {"t": 3.985, "v": 2.21, "s": "2SPINATM"}, {"t": 3.992, "v": -3, "s": "2SPINATM"},
      {"t": 3.998, "v": 2.21, "s": "2SPINATM"}, {"t": 4.005, "v": -3, "s": "2SPINATM"}, {"t": 4.011, "v": 2.21, "s": "2SPINATM"},
      {"t": 4.02, "v": -3, "s": "2SPINATM"}, {"t": 4.026, "v": 2.21, "s": "2SPINATM"}, {"t": 4.035, "v": -3, "s": "2SPINATM"},
      {"t": 4.041, "v": 2.21, "s": "2SPINATM"}, {"t": 4.087, "v": -3, "s": "2SPINATM"}, {"t": 4.093, "v": 2.21, "s": "2SPINATM"},
      {"t": 4.164, "v": -3, "s": "2SPINATM"}, {"t": 4.17, "v": 2.21, "s": "2SPINATM"}, {"t": 4.186, "v": 2.71, "s": "2SPINATM"},
      {"t": 4.285, "v": -3, "s": "2SPINATM"}, {"t": 4.291, "v": 2.71, "s": "2SPINATM"}, {"t": 4.625, "v": 2.71, "s": "2SPINATM"},
      {"t": 0.728, "v": -3, "s": "2SPHVATM"}, {"t": 0.731, "v": 13.25, "s": "2SPHVATM"}, {"t": 1.395, "v": 13.6, "s": "2SPHVATM"},
      {"t": 1.753, "v": 13.94, "s": "2SPHVATM"}, {"t": 2.119, "v": 14.35, "s": "2SPHVATM"}, {"t": 2.498, "v": 14.68, "s": "2SPHVATM"},
      {"t": 2.66, "v": 8.34, "s": "2SPHVATM"}, {"t": 2.67, "v": 14.68, "s": "2SPHVATM"}, {"t": 2.68, "v": 8.34, "s": "2SPHVATM"},
      {"t": 2.69, "v": 14.68, "s": "2SPHVATM"}, {"t": 2.7, "v": 8.34, "s": "2SPHVATM"}, {"t": 2.71, "v": 14.68, "s": "2SPHVATM"},
      {"t": 2.72, "v": 8.34, "s": "2SPHVATM"}, {"t": 2.73, "v": 14.68, "s": "2SPHVATM"}, {"t": 2.743, "v": -3, "s": "2SPHVATM"},
      {"t": 2.749, "v": 14.68, "s": "2SPHVATM"}, {"t": 2.76, "v": 8.34, "s": "2SPHVATM"}, {"t": 2.77, "v": 14.68, "s": "2SPHVATM"},
      {"t": 2.78, "v": 8.34, "s": "2SPHVATM"}, {"t": 2.79, "v": 14.68, "s": "2SPHVATM"}, {"t": 2.8, "v": 8.34, "s": "2SPHVATM"},
      {"t": 2.81, "v": 14.68, "s": "2SPHVATM"}, {"t": 2.82, "v": 8.34, "s": "2SPHVATM"}, {"t": 2.83, "v": 14.68, "s": "2SPHVATM"},
      {"t": 2.84, "v": 8.34, "s": "2SPHVATM"}, {"t": 2.85, "v": 14.68, "s": "2SPHVATM"}, {"t": 2.86, "v": 8.34, "s": "2SPHVATM"},
      {"t": 2.87, "v": 14.68, "s": "2SPHVATM"}, {"t": 2.88, "v": 8.34, "s": "2SPHVATM"}, {"t": 2.894, "v": -3, "s": "2SPHVATM"},
      {"t": 2.9, "v": 14.68, "s": "2SPHVATM"}, {"t": 2.91, "v": 8.34, "s": "2SPHVATM"}, {"t": 2.92, "v": 14.96, "s": "2SPHVATM"},
      {"t": 2.93, "v": 8.34, "s": "2SPHVATM"}, {"t": 2.94, "v": 14.96, "s": "2SPHVATM"}, {"t": 2.95, "v": 8.34, "s": "2SPHVATM"},
      {"t": 2.96, "v": 14.96, "s": "2SPHVATM"}, {"t": 2.97, "v": 8.34, "s": "2SPHVATM"}, {"t": 2.98, "v": 14.96, "s": "2SPHVATM"},
      {"t": 2.99, "v": 8.34, "s": "2SPHVATM"}, {"t": 3.0, "v": 14.96, "s": "2SPHVATM"}, {"t": 3.01, "v": 8.34, "s": "2SPHVATM"},
      {"t": 3.02, "v": 14.96, "s": "2SPHVATM"}, {"t": 3.03, "v": 8.34, "s": "2SPHVATM"}, {"t": 3.045, "v": 14.96, "s": "2SPHVATM"},
      {"t": 3.432, "v": 15.32, "s": "2SPHVATM"}, {"t": 3.971, "v": 15.6, "s": "2SPHVATM"}, {"t": 3.979, "v": 8.97, "s": "2SPHVATM"},
      {"t": 3.985, "v": 15.6, "s": "2SPHVATM"}, {"t": 3.992, "v": 8.97, "s": "2SPHVATM"}, {"t": 3.998, "v": 15.6, "s": "2SPHVATM"},
      {"t": 4.005, "v": 8.97, "s": "2SPHVATM"}, {"t": 4.011, "v": 15.6, "s": "2SPHVATM"}, {"t": 4.02, "v": 8.97, "s": "2SPHVATM"},
      {"t": 4.026, "v": 15.6, "s": "2SPHVATM"}, {"t": 4.035, "v": 8.97, "s": "2SPHVATM"}, {"t": 4.041, "v": 15.6, "s": "2SPHVATM"},
      {"t": 4.078, "v": -3, "s": "2SPHVATM"}, {"t": 4.084, "v": 15.6, "s": "2SPHVATM"}, {"t": 4.087, "v": 8.97, "s": "2SPHVATM"},
      {"t": 4.093, "v": 15.6, "s": "2SPHVATM"}, {"t": 4.164, "v": 8.97, "s": "2SPHVATM"}, {"t": 4.17, "v": 15.6, "s": "2SPHVATM"},
      {"t": 4.285, "v": 9.0, "s": "2SPHVATM"}, {"t": 4.291, "v": 15.6, "s": "2SPHVATM"}, {"t": 4.552, "v": 16.01, "s": "2SPHVATM"},
      {"t": 4.625, "v": 16.01, "s": "2SPHVATM"},
      {"t": 0.728, "v": -0.55, "s": "2IMINATM"}, {"t": 1.688, "v": -0.14, "s": "2IMINATM"},
      {"t": 2.66, "v": 1.79, "s": "2IMINATM"}, {"t": 2.67, "v": 0.27, "s": "2IMINATM"}, {"t": 2.68, "v": 1.79, "s": "2IMINATM"},
      {"t": 2.69, "v": 0.27, "s": "2IMINATM"}, {"t": 2.7, "v": 1.79, "s": "2IMINATM"}, {"t": 2.71, "v": 0.27, "s": "2IMINATM"},
      {"t": 2.72, "v": 1.79, "s": "2IMINATM"}, {"t": 2.73, "v": 0.27, "s": "2IMINATM"}, {"t": 2.74, "v": 1.79, "s": "2IMINATM"},
      {"t": 2.75, "v": 0.27, "s": "2IMINATM"}, {"t": 2.76, "v": 1.79, "s": "2IMINATM"}, {"t": 2.77, "v": 0.27, "s": "2IMINATM"},
      {"t": 2.78, "v": 1.79, "s": "2IMINATM"}, {"t": 2.79, "v": 0.27, "s": "2IMINATM"}, {"t": 2.8, "v": 1.79, "s": "2IMINATM"},
      {"t": 2.81, "v": 0.27, "s": "2IMINATM"}, {"t": 2.82, "v": 1.79, "s": "2IMINATM"}, {"t": 2.83, "v": 0.27, "s": "2IMINATM"},
      {"t": 2.84, "v": 1.79, "s": "2IMINATM"}, {"t": 2.85, "v": 0.27, "s": "2IMINATM"}, {"t": 2.86, "v": 1.79, "s": "2IMINATM"},
      {"t": 2.87, "v": 0.27, "s": "2IMINATM"}, {"t": 2.88, "v": 1.79, "s": "2IMINATM"}, {"t": 2.89, "v": 0.27, "s": "2IMINATM"},
      {"t": 2.9, "v": 1.79, "s": "2IMINATM"}, {"t": 2.91, "v": 0.27, "s": "2IMINATM"}, {"t": 2.92, "v": 1.79, "s": "2IMINATM"},
      {"t": 2.93, "v": 0.27, "s": "2IMINATM"}, {"t": 2.94, "v": 1.79, "s": "2IMINATM"}, {"t": 2.95, "v": 0.27, "s": "2IMINATM"},
      {"t": 2.96, "v": 1.79, "s": "2IMINATM"}, {"t": 2.97, "v": 0.27, "s": "2IMINATM"}, {"t": 2.98, "v": 1.79, "s": "2IMINATM"},
      {"t": 2.99, "v": 0.27, "s": "2IMINATM"}, {"t": 3.0, "v": 1.79, "s": "2IMINATM"}, {"t": 3.01, "v": 0.27, "s": "2IMINATM"},
      {"t": 3.02, "v": 1.79, "s": "2IMINATM"}, {"t": 3.03, "v": 0.27, "s": "2IMINATM"}, {"t": 3.045, "v": 0.33, "s": "2IMINATM"},
      {"t": 3.734, "v": 0.77, "s": "2IMINATM"}, {"t": 3.979, "v": 2.2, "s": "2IMINATM"}, {"t": 3.985, "v": 0.77, "s": "2IMINATM"},
      {"t": 3.992, "v": 2.2, "s": "2IMINATM"}, {"t": 3.998, "v": 0.77, "s": "2IMINATM"}, {"t": 4.005, "v": 2.2, "s": "2IMINATM"},
      {"t": 4.011, "v": 0.77, "s": "2IMINATM"}, {"t": 4.02, "v": 2.2, "s": "2IMINATM"}, {"t": 4.026, "v": 0.77, "s": "2IMINATM"},
      {"t": 4.087, "v": 2.2, "s": "2IMINATM"}, {"t": 4.093, "v": 0.77, "s": "2IMINATM"}, {"t": 4.164, "v": 2.2, "s": "2IMINATM"},
      {"t": 4.17, "v": 0.77, "s": "2IMINATM"}, {"t": 4.285, "v": 2.7, "s": "2IMINATM"}, {"t": 4.291, "v": 0.77, "s": "2IMINATM"},
      {"t": 4.552, "v": 1.3, "s": "2IMINATM"}, {"t": 4.625, "v": 1.3, "s": "2IMINATM"},
      {"t": 0.728, "v": -3, "s": "2IMHVATM"}, {"t": 0.731, "v": 12.61, "s": "2IMHVATM"}, {"t": 0.934, "v": 12.97, "s": "2IMHVATM"},
      {"t": 1.02, "v": 13.3, "s": "2IMHVATM"}, {"t": 1.128, "v": 13.6, "s": "2IMHVATM"}, {"t": 1.236, "v": 13.94, "s": "2IMHVATM"},
      {"t": 1.344, "v": 14.35, "s": "2IMHVATM"}, {"t": 1.494, "v": 14.63, "s": "2IMHVATM"}, {"t": 1.624, "v": 14.96, "s": "2IMHVATM"},
      {"t": 1.839, "v": 15.32, "s": "2IMHVATM"}, {"t": 2.054, "v": 15.68, "s": "2IMHVATM"}, {"t": 2.3, "v": 16.01, "s": "2IMHVATM"},
      {"t": 2.593, "v": 16.34, "s": "2IMHVATM"},
      {"t": 2.66, "v": 14.63, "s": "2IMHVATM"}, {"t": 2.67, "v": 16.34, "s": "2IMHVATM"}, {"t": 2.68, "v": 14.63, "s": "2IMHVATM"},
      {"t": 2.69, "v": 16.34, "s": "2IMHVATM"}, {"t": 2.7, "v": 14.63, "s": "2IMHVATM"}, {"t": 2.71, "v": 16.34, "s": "2IMHVATM"},
      {"t": 2.72, "v": 14.63, "s": "2IMHVATM"}, {"t": 2.73, "v": 16.34, "s": "2IMHVATM"}, {"t": 2.74, "v": 14.63, "s": "2IMHVATM"},
      {"t": 2.75, "v": 16.34, "s": "2IMHVATM"}, {"t": 2.76, "v": 14.63, "s": "2IMHVATM"}, {"t": 2.77, "v": 16.34, "s": "2IMHVATM"},
      {"t": 2.78, "v": 14.63, "s": "2IMHVATM"}, {"t": 2.79, "v": 16.34, "s": "2IMHVATM"}, {"t": 2.8, "v": 14.63, "s": "2IMHVATM"},
      {"t": 2.81, "v": 16.34, "s": "2IMHVATM"}, {"t": 2.82, "v": 14.63, "s": "2IMHVATM"}, {"t": 2.83, "v": 16.34, "s": "2IMHVATM"},
      {"t": 2.84, "v": 14.63, "s": "2IMHVATM"}, {"t": 2.85, "v": 16.34, "s": "2IMHVATM"}, {"t": 2.86, "v": 14.63, "s": "2IMHVATM"},
      {"t": 2.87, "v": 16.34, "s": "2IMHVATM"}, {"t": 2.88, "v": 14.63, "s": "2IMHVATM"}, {"t": 2.89, "v": 16.34, "s": "2IMHVATM"},
      {"t": 2.9, "v": 14.63, "s": "2IMHVATM"}, {"t": 2.91, "v": 16.7, "s": "2IMHVATM"}, {"t": 2.92, "v": 14.63, "s": "2IMHVATM"},
      {"t": 2.93, "v": 16.7, "s": "2IMHVATM"}, {"t": 2.94, "v": 14.63, "s": "2IMHVATM"}, {"t": 2.95, "v": 16.7, "s": "2IMHVATM"},
      {"t": 2.96, "v": 14.63, "s": "2IMHVATM"}, {"t": 2.97, "v": 16.7, "s": "2IMHVATM"}, {"t": 2.98, "v": 14.63, "s": "2IMHVATM"},
      {"t": 2.99, "v": 16.7, "s": "2IMHVATM"}, {"t": 3.0, "v": 14.63, "s": "2IMHVATM"}, {"t": 3.01, "v": 16.7, "s": "2IMHVATM"},
      {"t": 3.02, "v": 14.63, "s": "2IMHVATM"}, {"t": 3.03, "v": 16.7, "s": "2IMHVATM"}, {"t": 3.04, "v": 14.63, "s": "2IMHVATM"},
      {"t": 3.045, "v": 16.7, "s": "2IMHVATM"}, {"t": 3.381, "v": 17.03, "s": "2IMHVATM"}, {"t": 3.919, "v": 17.39, "s": "2IMHVATM"},
      {"t": 3.979, "v": 15.6, "s": "2IMHVATM"}, {"t": 3.985, "v": 17.39, "s": "2IMHVATM"}, {"t": 3.992, "v": 15.6, "s": "2IMHVATM"},
      {"t": 3.998, "v": 17.39, "s": "2IMHVATM"}, {"t": 4.005, "v": 15.6, "s": "2IMHVATM"}, {"t": 4.011, "v": 17.39, "s": "2IMHVATM"},
      {"t": 4.02, "v": 15.6, "s": "2IMHVATM"}, {"t": 4.026, "v": 17.39, "s": "2IMHVATM"}, {"t": 4.035, "v": 15.6, "s": "2IMHVATM"},
      {"t": 4.041, "v": 17.39, "s": "2IMHVATM"}, {"t": 4.087, "v": 15.6, "s": "2IMHVATM"}, {"t": 4.093, "v": 17.39, "s": "2IMHVATM"},
      {"t": 4.164, "v": 15.6, "s": "2IMHVATM"}, {"t": 4.17, "v": 17.39, "s": "2IMHVATM"}, {"t": 4.285, "v": 15.6, "s": "2IMHVATM"},
      {"t": 4.291, "v": 17.39, "s": "2IMHVATM"}, {"t": 4.431, "v": 17.72, "s": "2IMHVATM"}, {"t": 4.638, "v": 17.72, "s": "2IMHVATM"},
      {"t": 4.645, "v": 25, "s": "2IMHVATM"}, {"t": 4.647, "v": -5, "s": "2IMHVATM"}, {"t": 4.649, "v": 25, "s": "2IMHVATM"},
      {"t": 4.651, "v": -5, "s": "2IMHVATM"}, {"t": 4.653, "v": 25, "s": "2IMHVATM"}, {"t": 4.655, "v": -5, "s": "2IMHVATM"},
      {"t": 4.657, "v": -5, "s": "2IMHVATM"}
    ],
    "fea": [
      {"t": -0.32, "v": -7.98, "s": "2FHTRMZT"}, {"t": 0.45, "v": -7.5, "s": "2FHTRMZT"}, {"t": 0.51, "v": -7.98, "s": "2FHTRMZT"},
      {"t": 0.885, "v": -7.58, "s": "2FHTRMZT"}, {"t": 1.066, "v": -7.16, "s": "2FHTRMZT"}, {"t": 1.229, "v": -6.77, "s": "2FHTRMZT"},
      {"t": 1.383, "v": -6.38, "s": "2FHTRMZT"}, {"t": 1.536, "v": -5.96, "s": "2FHTRMZT"}, {"t": 1.695, "v": -5.58, "s": "2FHTRMZT"},
      {"t": 1.862, "v": -5.18, "s": "2FHTRMZT"}, {"t": 2.034, "v": -4.79, "s": "2FHTRMZT"}, {"t": 2.207, "v": -4.4, "s": "2FHTRMZT"},
      {"t": 2.384, "v": -4.01, "s": "2FHTRMZT"}, {"t": 2.57, "v": -3.64, "s": "2FHTRMZT"}, {"t": 2.756, "v": -3.26, "s": "2FHTRMZT"},
      {"t": 2.952, "v": -2.86, "s": "2FHTRMZT"}, {"t": 3.166, "v": -2.48, "s": "2FHTRMZT"}, {"t": 3.375, "v": -2.11, "s": "2FHTRMZT"},
      {"t": 3.4, "v": -0.52, "s": "2FHTRMZT"}, {"t": 3.412, "v": -2.11, "s": "2FHTRMZT"}, {"t": 3.585, "v": -1.73, "s": "2FHTRMZT"},
      {"t": 3.803, "v": -1.36, "s": "2FHTRMZT"}, {"t": 4.036, "v": -0.98, "s": "2FHTRMZT"}, {"t": 4.269, "v": -0.61, "s": "2FHTRMZT"},
      {"t": 4.516, "v": -0.22, "s": "2FHTRMZT"}, {"t": 5.047, "v": -0.61, "s": "2FHTRMZT"}, {"t": 5.363, "v": -0.98, "s": "2FHTRMZT"},
      {"t": 5.65, "v": -0.98, "s": "2FHTRMZT"},
      {"t": -0.32, "v": -9.64, "s": "2FRADPYT"}, {"t": 0.59, "v": -10.6, "s": "2FRADPYT"}, {"t": 0.999, "v": -9.64, "s": "2FRADPYT"},
      {"t": 1.193, "v": -9.22, "s": "2FRADPYT"}, {"t": 1.365, "v": -8.81, "s": "2FRADPYT"}, {"t": 1.537, "v": -8.41, "s": "2FRADPYT"},
      {"t": 1.74, "v": -7.99, "s": "2FRADPYT"}, {"t": 1.925, "v": -7.59, "s": "2FRADPYT"}, {"t": 2.119, "v": -7.18, "s": "2FRADPYT"},
      {"t": 2.313, "v": -6.77, "s": "2FRADPYT"}, {"t": 2.519, "v": -6.38, "s": "2FRADPYT"}, {"t": 2.87, "v": -5.98, "s": "2FRADPYT"},
      {"t": 3.002, "v": -5.59, "s": "2FRADPYT"}, {"t": 3.187, "v": -5.19, "s": "2FRADPYT"}, {"t": 3.424, "v": -4.8, "s": "2FRADPYT"},
      {"t": 3.661, "v": -4.42, "s": "2FRADPYT"}, {"t": 3.915, "v": -4.03, "s": "2FRADPYT"}, {"t": 4.156, "v": -3.64, "s": "2FRADPYT"},
      {"t": 4.423, "v": -3.25, "s": "2FRADPYT"}, {"t": 4.983, "v": -3.64, "s": "2FRADPYT"}, {"t": 5.543, "v": -3.25, "s": "2FRADPYT"},
      {"t": 5.65, "v": -3.25, "s": "2FRADPYT"},
      {"t": 0.728, "v": -11, "s": "2FEPRATM"}, {"t": 0.731, "v": -8.1, "s": "2FEPRATM"}, {"t": 0.784, "v": -7.67, "s": "2FEPRATM"},
      {"t": 0.827, "v": -7.27, "s": "2FEPRATM"}, {"t": 0.87, "v": -6.85, "s": "2FEPRATM"}, {"t": 0.926, "v": -6.44, "s": "2FEPRATM"},
      {"t": 0.999, "v": -6.03, "s": "2FEPRATM"}, {"t": 1.094, "v": -5.62, "s": "2FEPRATM"}, {"t": 1.206, "v": -5.22, "s": "2FEPRATM"},
      {"t": 1.335, "v": -4.8, "s": "2FEPRATM"}, {"t": 1.473, "v": -4.38, "s": "2FEPRATM"}, {"t": 1.624, "v": -3.95, "s": "2FEPRATM"},
      {"t": 1.783, "v": -3.52, "s": "2FEPRATM"}, {"t": 1.955, "v": -3.12, "s": "2FEPRATM"}, {"t": 2.127, "v": -2.69, "s": "2FEPRATM"},
      {"t": 2.313, "v": -2.26, "s": "2FEPRATM"}, {"t": 2.519, "v": -1.83, "s": "2FEPRATM"},
      {"t": 2.66, "v": -6.08, "s": "2FEPRATM"}, {"t": 2.67, "v": -1.83, "s": "2FEPRATM"}, {"t": 2.68, "v": -6.08, "s": "2FEPRATM"},
      {"t": 2.69, "v": -1.83, "s": "2FEPRATM"}, {"t": 2.7, "v": -6.08, "s": "2FEPRATM"}, {"t": 2.71, "v": -1.83, "s": "2FEPRATM"},
      {"t": 2.72, "v": -6.08, "s": "2FEPRATM"}, {"t": 2.73, "v": -1.83, "s": "2FEPRATM"}, {"t": 2.74, "v": -6.08, "s": "2FEPRATM"},
      {"t": 2.75, "v": -1.83, "s": "2FEPRATM"}, {"t": 2.76, "v": -6.08, "s": "2FEPRATM"}, {"t": 2.77, "v": -1.83, "s": "2FEPRATM"},
      {"t": 2.78, "v": -6.08, "s": "2FEPRATM"}, {"t": 2.79, "v": -1.83, "s": "2FEPRATM"}, {"t": 2.8, "v": -6.08, "s": "2FEPRATM"},
      {"t": 2.81, "v": -1.83, "s": "2FEPRATM"}, {"t": 2.82, "v": -6.08, "s": "2FEPRATM"}, {"t": 2.83, "v": -1.83, "s": "2FEPRATM"},
      {"t": 2.84, "v": -6.08, "s": "2FEPRATM"}, {"t": 2.85, "v": -1.83, "s": "2FEPRATM"}, {"t": 2.86, "v": -6.08, "s": "2FEPRATM"},
      {"t": 2.87, "v": -1.83, "s": "2FEPRATM"}, {"t": 2.88, "v": -6.08, "s": "2FEPRATM"}, {"t": 2.89, "v": -1.83, "s": "2FEPRATM"},
      {"t": 2.9, "v": -6.08, "s": "2FEPRATM"}, {"t": 2.91, "v": -1.83, "s": "2FEPRATM"}, {"t": 2.92, "v": -6.08, "s": "2FEPRATM"},
      {"t": 2.93, "v": -1.83, "s": "2FEPRATM"}, {"t": 2.94, "v": -6.08, "s": "2FEPRATM"}, {"t": 2.95, "v": -1.83, "s": "2FEPRATM"},
      {"t": 2.96, "v": -6.08, "s": "2FEPRATM"}, {"t": 2.97, "v": -1.83, "s": "2FEPRATM"}, {"t": 2.98, "v": -6.08, "s": "2FEPRATM"},
      {"t": 2.99, "v": -1.83, "s": "2FEPRATM"}, {"t": 3.0, "v": -6.08, "s": "2FEPRATM"}, {"t": 3.01, "v": -1.83, "s": "2FEPRATM"},
      {"t": 3.02, "v": -6.08, "s": "2FEPRATM"}, {"t": 3.03, "v": -1.83, "s": "2FEPRATM"}, {"t": 3.045, "v": -0.97, "s": "2FEPRATM"},
      {"t": 3.187, "v": -0.52, "s": "2FEPRATM"}, {"t": 3.424, "v": -0.09, "s": "2FEPRATM"}, {"t": 3.678, "v": 0.39, "s": "2FEPRATM"},
      {"t": 3.941, "v": 0.84, "s": "2FEPRATM"}, {"t": 3.979, "v": -6.08, "s": "2FEPRATM"}, {"t": 3.985, "v": 0.84, "s": "2FEPRATM"},
      {"t": 3.992, "v": -6.08, "s": "2FEPRATM"}, {"t": 3.998, "v": 0.84, "s": "2FEPRATM"}, {"t": 4.005, "v": -6.08, "s": "2FEPRATM"},
      {"t": 4.011, "v": 0.84, "s": "2FEPRATM"}, {"t": 4.087, "v": -6.08, "s": "2FEPRATM"}, {"t": 4.093, "v": 0.84, "s": "2FEPRATM"},
      {"t": 4.177, "v": -6.08, "s": "2FEPRATM"}, {"t": 4.183, "v": 0.84, "s": "2FEPRATM"}, {"t": 4.208, "v": 1.28, "s": "2FEPRATM"},
      {"t": 4.285, "v": -6.08, "s": "2FEPRATM"}, {"t": 4.291, "v": 1.28, "s": "2FEPRATM"}, {"t": 4.509, "v": 1.9, "s": "2FEPRATM"},
      {"t": 4.627, "v": -0.6, "s": "2FEPRATM"}, {"t": 4.631, "v": 1.9, "s": "2FEPRATM"}, {"t": 4.64, "v": 1.9, "s": "2FEPRATM"},
      {"t": 0.728, "v": -11, "s": "2FE00ATM"}, {"t": 0.731, "v": -8.94, "s": "2FE00ATM"}, {"t": 0.87, "v": -9.35, "s": "2FE00ATM"},
      {"t": 0.876, "v": -8.94, "s": "2FE00ATM"}, {"t": 0.891, "v": -8.56, "s": "2FE00ATM"}, {"t": 0.9, "v": -8.19, "s": "2FE00ATM"},
      {"t": 0.906, "v": -8.56, "s": "2FE00ATM"}, {"t": 1.021, "v": -8.21, "s": "2FE00ATM"}, {"t": 1.107, "v": -7.83, "s": "2FE00ATM"},
      {"t": 1.22, "v": -7.47, "s": "2FE00ATM"}, {"t": 1.25, "v": -8.0, "s": "2FE00ATM"}, {"t": 1.256, "v": -7.47, "s": "2FE00ATM"},
      {"t": 1.3, "v": -7.05, "s": "2FE00ATM"}, {"t": 1.306, "v": -7.47, "s": "2FE00ATM"}, {"t": 1.36, "v": -7.09, "s": "2FE00ATM"},
      {"t": 1.38, "v": -7.6, "s": "2FE00ATM"}, {"t": 1.386, "v": -7.09, "s": "2FE00ATM"}, {"t": 1.451, "v": -6.77, "s": "2FE00ATM"},
      {"t": 1.48, "v": -7.35, "s": "2FE00ATM"}, {"t": 1.486, "v": -6.77, "s": "2FE00ATM"}, {"t": 1.537, "v": -6.4, "s": "2FE00ATM"},
      {"t": 1.688, "v": -6.05, "s": "2FE00ATM"}, {"t": 1.74, "v": -6.5, "s": "2FE00ATM"}, {"t": 1.746, "v": -6.05, "s": "2FE00ATM"},
      {"t": 1.839, "v": -5.72, "s": "2FE00ATM"}, {"t": 1.9, "v": -6.2, "s": "2FE00ATM"}, {"t": 1.906, "v": -5.72, "s": "2FE00ATM"},
      {"t": 1.947, "v": -5.32, "s": "2FE00ATM"}, {"t": 2.02, "v": -5.8, "s": "2FE00ATM"}, {"t": 2.026, "v": -5.32, "s": "2FE00ATM"},
      {"t": 2.119, "v": -4.98, "s": "2FE00ATM"}, {"t": 2.22, "v": -5.5, "s": "2FE00ATM"}, {"t": 2.226, "v": -4.98, "s": "2FE00ATM"},
      {"t": 2.239, "v": -4.66, "s": "2FE00ATM"}, {"t": 2.28, "v": -5.2, "s": "2FE00ATM"}, {"t": 2.286, "v": -4.66, "s": "2FE00ATM"},
      {"t": 2.399, "v": -4.31, "s": "2FE00ATM"}, {"t": 2.47, "v": -4.9, "s": "2FE00ATM"}, {"t": 2.476, "v": -4.31, "s": "2FE00ATM"},
      {"t": 2.528, "v": -3.95, "s": "2FE00ATM"}, {"t": 2.56, "v": -4.55, "s": "2FE00ATM"}, {"t": 2.566, "v": -3.95, "s": "2FE00ATM"},
      {"t": 2.66, "v": 2.5, "s": "2FE00ATM"}, {"t": 2.67, "v": -3.66, "s": "2FE00ATM"}, {"t": 2.68, "v": 2.5, "s": "2FE00ATM"},
      {"t": 2.69, "v": -3.66, "s": "2FE00ATM"}, {"t": 2.7, "v": 2.5, "s": "2FE00ATM"}, {"t": 2.71, "v": -3.66, "s": "2FE00ATM"},
      {"t": 2.72, "v": 2.5, "s": "2FE00ATM"}, {"t": 2.73, "v": -3.66, "s": "2FE00ATM"}, {"t": 2.743, "v": -11, "s": "2FE00ATM"},
      {"t": 2.749, "v": 2.5, "s": "2FE00ATM"}, {"t": 2.76, "v": -3.66, "s": "2FE00ATM"}, {"t": 2.77, "v": 2.5, "s": "2FE00ATM"},
      {"t": 2.78, "v": -3.66, "s": "2FE00ATM"}, {"t": 2.79, "v": 2.5, "s": "2FE00ATM"}, {"t": 2.8, "v": -3.66, "s": "2FE00ATM"},
      {"t": 2.81, "v": 2.5, "s": "2FE00ATM"}, {"t": 2.82, "v": -3.66, "s": "2FE00ATM"}, {"t": 2.83, "v": 2.5, "s": "2FE00ATM"},
      {"t": 2.84, "v": -3.66, "s": "2FE00ATM"}, {"t": 2.85, "v": 2.5, "s": "2FE00ATM"}, {"t": 2.86, "v": -3.66, "s": "2FE00ATM"},
      {"t": 2.87, "v": 2.5, "s": "2FE00ATM"}, {"t": 2.88, "v": -3.66, "s": "2FE00ATM"}, {"t": 2.894, "v": -11, "s": "2FE00ATM"},
      {"t": 2.9, "v": 2.5, "s": "2FE00ATM"}, {"t": 2.91, "v": -3.66, "s": "2FE00ATM"}, {"t": 2.92, "v": 2.5, "s": "2FE00ATM"},
      {"t": 2.93, "v": -3.66, "s": "2FE00ATM"}, {"t": 2.94, "v": 2.5, "s": "2FE00ATM"}, {"t": 2.95, "v": -3.66, "s": "2FE00ATM"},
      {"t": 2.96, "v": 2.5, "s": "2FE00ATM"}, {"t": 2.97, "v": -3.66, "s": "2FE00ATM"}, {"t": 2.98, "v": 2.5, "s": "2FE00ATM"},
      {"t": 2.99, "v": -3.66, "s": "2FE00ATM"}, {"t": 3.0, "v": 2.5, "s": "2FE00ATM"}, {"t": 3.01, "v": -3.66, "s": "2FE00ATM"},
      {"t": 3.02, "v": 2.5, "s": "2FE00ATM"}, {"t": 3.03, "v": -3.66, "s": "2FE00ATM"}, {"t": 3.045, "v": -3.32, "s": "2FE00ATM"},
      {"t": 3.11, "v": -3.9, "s": "2FE00ATM"}, {"t": 3.116, "v": -3.32, "s": "2FE00ATM"}, {"t": 3.131, "v": -2.97, "s": "2FE00ATM"},
      {"t": 3.174, "v": -2.61, "s": "2FE00ATM"}, {"t": 3.19, "v": -3.55, "s": "2FE00ATM"}, {"t": 3.196, "v": -2.61, "s": "2FE00ATM"},
      {"t": 3.325, "v": -2.27, "s": "2FE00ATM"}, {"t": 3.45, "v": -2.75, "s": "2FE00ATM"}, {"t": 3.456, "v": -2.27, "s": "2FE00ATM"},
      {"t": 3.475, "v": -1.94, "s": "2FE00ATM"}, {"t": 3.57, "v": -2.45, "s": "2FE00ATM"}, {"t": 3.576, "v": -1.94, "s": "2FE00ATM"},
      {"t": 3.626, "v": -1.59, "s": "2FE00ATM"}, {"t": 3.7, "v": -2.0, "s": "2FE00ATM"}, {"t": 3.706, "v": -1.59, "s": "2FE00ATM"},
      {"t": 3.81, "v": -1.95, "s": "2FE00ATM"}, {"t": 3.816, "v": -1.59, "s": "2FE00ATM"}, {"t": 3.863, "v": -1.25, "s": "2FE00ATM"},
      {"t": 3.95, "v": 2.5, "s": "2FE00ATM"}, {"t": 3.96, "v": -1.34, "s": "2FE00ATM"}, {"t": 3.97, "v": 2.5, "s": "2FE00ATM"},
      {"t": 3.98, "v": -1.34, "s": "2FE00ATM"}, {"t": 3.99, "v": 2.5, "s": "2FE00ATM"}, {"t": 4.0, "v": -1.34, "s": "2FE00ATM"},
      {"t": 4.01, "v": 2.5, "s": "2FE00ATM"}, {"t": 4.02, "v": -1.34, "s": "2FE00ATM"}, {"t": 4.03, "v": 2.5, "s": "2FE00ATM"},
      {"t": 4.04, "v": -1.34, "s": "2FE00ATM"}, {"t": 4.05, "v": 2.5, "s": "2FE00ATM"}, {"t": 4.06, "v": -1.34, "s": "2FE00ATM"},
      {"t": 4.07, "v": 2.5, "s": "2FE00ATM"}, {"t": 4.078, "v": -11, "s": "2FE00ATM"}, {"t": 4.084, "v": 2.5, "s": "2FE00ATM"},
      {"t": 4.09, "v": -1.34, "s": "2FE00ATM"}, {"t": 4.1, "v": 2.5, "s": "2FE00ATM"}, {"t": 4.11, "v": -1.34, "s": "2FE00ATM"},
      {"t": 4.12, "v": 2.5, "s": "2FE00ATM"}, {"t": 4.13, "v": -1.34, "s": "2FE00ATM"}, {"t": 4.14, "v": -0.99, "s": "2FE00ATM"},
      {"t": 4.25, "v": -0.56, "s": "2FE00ATM"}, {"t": 4.33, "v": -1.1, "s": "2FE00ATM"}, {"t": 4.336, "v": -0.56, "s": "2FE00ATM"},
      {"t": 4.46, "v": -1.2, "s": "2FE00ATM"}, {"t": 4.466, "v": -0.56, "s": "2FE00ATM"}, {"t": 4.53, "v": -0.28, "s": "2FE00ATM"},
      {"t": 4.638, "v": -0.28, "s": "2FE00ATM"}, {"t": 4.645, "v": 3, "s": "2FE00ATM"}, {"t": 4.647, "v": -11, "s": "2FE00ATM"},
      {"t": 4.649, "v": 3, "s": "2FE00ATM"}, {"t": 4.651, "v": -11, "s": "2FE00ATM"}, {"t": 4.653, "v": 3, "s": "2FE00ATM"},
      {"t": 4.655, "v": -11, "s": "2FE00ATM"}, {"t": 4.657, "v": -11, "s": "2FE00ATM"}
    ]
  },
  "vconcat": [
    {
      "width": 1796, "height": 669,
      "layer": [
        {
          "encoding": {"x": {"field": "t", "type": "quantitative", "scale": {"domain": [-0.6172, 5.9423], "nice": false, "zero": false}, "axis": {"orient": "bottom", "title": null, "labels": false, "values": [-0.5, 0, 0.5, 1, 1.5, 2, 2.5, 3, 3.5, 4, 4.5, 5, 5.5], "grid": true, "gridColor": "#b0b0b0", "gridWidth": {"condition": {"test": "datum.value % 1 !== 0", "value": 1.5}, "value": 2}, "gridDash": {"condition": {"test": "datum.value % 1 !== 0", "value": [8, 6]}, "value": []}, "tickSize": {"condition": {"test": "datum.value % 1 !== 0", "value": -8}, "value": 29}, "tickWidth": {"condition": {"test": "datum.value % 1 !== 0", "value": 2}, "value": 4}}}},
          "layer": [
            {"data": {"name": "shade"}, "mark": {"type": "rect", "color": "#ff0000", "opacity": 0.055}, "encoding": {"x2": {"field": "t2"}}},
            {"data": {"name": "dark"}, "mark": {"type": "rect", "color": "#000000", "opacity": 0.11}, "encoding": {"x2": {"field": "t2"}}},
            {"data": {"name": "vl"}, "mark": {"type": "rule", "color": "black", "strokeWidth": 2}, "encoding": {}}
          ]
        },
        {
          "data": {"name": "pitch"},
          "mark": {"type": "line", "color": "black", "strokeWidth": 4.5, "interpolate": "monotone", "clip": true},
          "encoding": {
            "x": {"field": "t", "type": "quantitative", "scale": {"domain": [-0.6172, 5.9423], "nice": false, "zero": false},
              "axis": {"orient": "top", "title": null, "grid": false, "values": [0, 0.452, 1, 2, 3, 4, 5], "labelAngle": -90, "labelAlign": "left", "labelBaseline": "middle", "labelLimit": 600,
                "labelExpr": "datum.value == 0.452 ? '31516 HRC-I' : '2026:113:0' + datum.value + ':00:00.000'",
                "labelFontSize": {"condition": {"test": "datum.value == 0.452", "value": 27}, "value": 16.5},
                "labelFontWeight": {"condition": {"test": "datum.value == 0.452", "value": "bold"}, "value": "normal"},
                "tickSize": {"condition": {"test": "datum.value == 0.452", "value": 0}, "value": 10},
                "labelPadding": {"condition": {"test": "datum.value == 0.452", "value": 20}, "value": 9}}},
            "y": {"field": "v", "type": "quantitative", "scale": {"domain": [45.1, 180], "nice": false, "zero": false}, "axis": {"title": "Pitch Angle", "values": [60, 80, 100, 120, 140, 160, 180]}}
          }
        }
      ],
      "resolve": {"scale": {"x": "independent"}, "axis": {"x": "independent"}}
    },
    {
      "width": 1796, "height": 669,
      "encoding": {"x": {"field": "t", "type": "quantitative", "scale": {"domain": [-0.6172, 5.9423], "nice": false, "zero": false}, "axis": {"orient": "bottom", "title": null, "labels": false, "values": [-0.5, 0, 0.5, 1, 1.5, 2, 2.5, 3, 3.5, 4, 4.5, 5, 5.5], "grid": true, "gridColor": "#b0b0b0", "gridWidth": {"condition": {"test": "datum.value % 1 !== 0", "value": 1.5}, "value": 2}, "gridDash": {"condition": {"test": "datum.value % 1 !== 0", "value": [8, 6]}, "value": []}, "tickSize": {"condition": {"test": "datum.value % 1 !== 0", "value": -8}, "value": 29}, "tickWidth": {"condition": {"test": "datum.value % 1 !== 0", "value": 2}, "value": 4}}}},
      "layer": [
        {"data": {"name": "shade"}, "mark": {"type": "rect", "color": "#ff0000", "opacity": 0.055}, "encoding": {"x2": {"field": "t2"}}},
        {"data": {"name": "vl"}, "mark": {"type": "rule", "color": "black", "strokeWidth": 2}, "encoding": {}},
        {"data": {"name": "hl2"}, "mark": {"type": "rule", "color": "#808080", "strokeWidth": 2.5, "clip": true},
          "encoding": {"x2": {"field": "t2"}, "y": {"field": "v", "type": "quantitative", "scale": {"domain": [-9.4, 10.18], "nice": false, "zero": false}, "axis": {"title": "Temperature", "values": [-7.5, -5, -2.5, 0, 2.5, 5, 7.5, 10], "format": ".1f"}}}},
        {"data": {"name": "m2"}, "mark": {"type": "line", "color": "#454545", "strokeWidth": 4, "interpolate": "monotone", "clip": true},
          "encoding": {"y": {"field": "v", "type": "quantitative", "scale": {"domain": [-9.4, 10.18], "nice": false, "zero": false}, "axis": {"title": "Temperature", "values": [-7.5, -5, -2.5, 0, 2.5, 5, 7.5, 10], "format": ".1f"}}}},
        {"data": {"name": "t2"}, "mark": {"type": "line", "strokeWidth": 7, "interpolate": "step-after", "clip": true},
          "encoding": {
            "y": {"field": "v", "type": "quantitative", "scale": {"domain": [-9.4, 10.18], "nice": false, "zero": false}, "axis": {"title": "Temperature", "values": [-7.5, -5, -2.5, 0, 2.5, 5, 7.5, 10], "format": ".1f"}},
            "color": {"field": "s", "type": "nominal", "scale": {"domain": ["2CHTRPZT", "2CEAHVPT", "2DTSTATT", "2DCENTRT", "2FHTRMZT"], "range": ["#1f77b4", "#ff7f0e", "#2ca02c", "#d62728", "#9467bd"]},
              "legend": {"title": null, "orient": "top-left", "columns": 2, "columnPadding": 40}}
          }},
        {"data": {"name": "box"}, "mark": {"type": "rect", "fill": "white", "stroke": "black", "strokeWidth": 2.5, "clip": false},
          "encoding": {"x2": {"field": "t2"}, "y": {"field": "v", "type": "quantitative", "scale": {"domain": [-9.4, 10.18], "nice": false, "zero": false}, "axis": {"title": "Temperature", "values": [-7.5, -5, -2.5, 0, 2.5, 5, 7.5, 10], "format": ".1f"}}, "y2": {"field": "v2"}}},
        {"data": {"name": "tau"}, "mark": {"type": "text", "align": "left", "baseline": "middle", "font": "DejaVu Sans", "fontSize": 27, "color": "black", "clip": false},
          "encoding": {"y": {"field": "v", "type": "quantitative", "scale": {"domain": [-9.4, 10.18], "nice": false, "zero": false}, "axis": {"title": "Temperature", "values": [-7.5, -5, -2.5, 0, 2.5, 5, 7.5, 10], "format": ".1f"}}, "text": {"field": "label"}}}
      ]
    },
    {
      "width": 1796, "height": 669,
      "encoding": {"x": {"field": "t", "type": "quantitative", "scale": {"domain": [-0.6172, 5.9423], "nice": false, "zero": false}, "axis": {"orient": "bottom", "title": null, "labels": false, "values": [-0.5, 0, 0.5, 1, 1.5, 2, 2.5, 3, 3.5, 4, 4.5, 5, 5.5], "grid": true, "gridColor": "#b0b0b0", "gridWidth": {"condition": {"test": "datum.value % 1 !== 0", "value": 1.5}, "value": 2}, "gridDash": {"condition": {"test": "datum.value % 1 !== 0", "value": [8, 6]}, "value": []}, "tickSize": {"condition": {"test": "datum.value % 1 !== 0", "value": -8}, "value": 29}, "tickWidth": {"condition": {"test": "datum.value % 1 !== 0", "value": 2}, "value": 4}}}},
      "layer": [
        {"data": {"name": "shade"}, "mark": {"type": "rect", "color": "#ff0000", "opacity": 0.055}, "encoding": {"x2": {"field": "t2"}}},
        {"data": {"name": "vl"}, "mark": {"type": "rule", "color": "black", "strokeWidth": 2}, "encoding": {}},
        {"data": {"name": "hl3"}, "mark": {"type": "rule", "color": "#808080", "strokeWidth": 2.5, "clip": true},
          "encoding": {"x2": {"field": "t2"}, "y": {"field": "v", "type": "quantitative", "scale": {"domain": [3.2, 13.5], "nice": false, "zero": false}, "axis": {"title": "Temperature", "values": [4, 6, 8, 10, 12]}}}},
        {"data": {"name": "t3"}, "mark": {"type": "line", "strokeWidth": 7, "interpolate": "step-after", "clip": true},
          "encoding": {
            "y": {"field": "v", "type": "quantitative", "scale": {"domain": [3.2, 13.5], "nice": false, "zero": false}, "axis": {"title": "Temperature", "values": [4, 6, 8, 10, 12]}},
            "color": {"field": "s", "type": "nominal", "scale": {"domain": ["2CEAHVPT", "Model"], "range": ["#1f77b4", "#ff7f0e"]}, "legend": {"title": null, "orient": "bottom-right"}}
          }},
        {"data": {"name": "m3"}, "mark": {"type": "line", "strokeWidth": 5, "interpolate": "monotone", "clip": true},
          "encoding": {
            "y": {"field": "v", "type": "quantitative", "scale": {"domain": [3.2, 13.5], "nice": false, "zero": false}, "axis": {"title": "Temperature", "values": [4, 6, 8, 10, 12]}},
            "color": {"field": "s", "type": "nominal", "scale": {"domain": ["2CEAHVPT", "Model"], "range": ["#1f77b4", "#ff7f0e"]}, "legend": {"title": null, "orient": "bottom-right"}}
          }}
      ]
    },
    {
      "width": 1796, "height": 669,
      "encoding": {"x": {"field": "t", "type": "quantitative", "scale": {"domain": [-0.6172, 5.9423], "nice": false, "zero": false}, "axis": {"orient": "bottom", "title": null, "labels": false, "values": [-0.5, 0, 0.5, 1, 1.5, 2, 2.5, 3, 3.5, 4, 4.5, 5, 5.5], "grid": true, "gridColor": "#b0b0b0", "gridWidth": {"condition": {"test": "datum.value % 1 !== 0", "value": 1.5}, "value": 2}, "gridDash": {"condition": {"test": "datum.value % 1 !== 0", "value": [8, 6]}, "value": []}, "tickSize": {"condition": {"test": "datum.value % 1 !== 0", "value": -8}, "value": 29}, "tickWidth": {"condition": {"test": "datum.value % 1 !== 0", "value": 2}, "value": 4}}}},
      "layer": [
        {"data": {"name": "shade"}, "mark": {"type": "rect", "color": "#ff0000", "opacity": 0.055}, "encoding": {"x2": {"field": "t2"}}},
        {"data": {"name": "vl"}, "mark": {"type": "rule", "color": "black", "strokeWidth": 2}, "encoding": {}},
        {"data": {"name": "rfold"}, "transform": [{"fold": ["B", "O", "G"], "as": ["k", "v"]}],
          "mark": {"type": "line", "strokeWidth": 4, "clip": true},
          "encoding": {
            "y": {"field": "v", "type": "quantitative", "scale": {"type": "log", "domain": [20, 8960], "nice": false},
              "axis": {"title": "Rate", "values": [20, 30, 40, 50, 60, 70, 80, 90, 100, 200, 300, 400, 500, 600, 700, 800, 900, 1000, 2000, 3000, 4000, 5000, 6000, 7000, 8000],
                "labelExpr": "datum.value == 100 ? '10²' : (datum.value == 1000 ? '10³' : '')",
                "tickSize": {"condition": {"test": "datum.value == 100 || datum.value == 1000", "value": 27}, "value": -8},
                "tickWidth": {"condition": {"test": "datum.value == 100 || datum.value == 1000", "value": 3}, "value": 2}}},
            "color": {"field": "k", "type": "nominal", "scale": {"domain": ["B", "O", "G", "P", "Y"], "range": ["#1f77b4", "#ff7f0e", "#2ca02c", "#9467bd", "#bcbd22"]},
              "legend": {"title": null, "orient": "bottom-left", "symbolStrokeWidth": 3.5, "labelExpr": "datum.label == 'B' ? '2TLEV1RT (244)' : datum.label == 'O' ? '2VLEV1RT (198)' : datum.label == 'G' ? '2SHEV1RT (1,392)' : datum.label == 'P' ? 'Old Proxy' : 'New Proxy'"}},
            "strokeDash": {"field": "k", "type": "nominal", "scale": {"domain": ["B", "O", "G", "P", "Y"], "range": [[1, 0], [1, 0], [1, 0], [6, 4], [6, 4]]},
              "legend": {"title": null, "orient": "bottom-left", "symbolStrokeWidth": 3.5, "labelExpr": "datum.label == 'B' ? '2TLEV1RT (244)' : datum.label == 'O' ? '2VLEV1RT (198)' : datum.label == 'G' ? '2SHEV1RT (1,392)' : datum.label == 'P' ? 'Old Proxy' : 'New Proxy'"}}
          }},
        {"data": {"name": "rx"},
          "mark": {"type": "line", "strokeWidth": 2.5, "clip": true},
          "encoding": {
            "y": {"field": "v", "type": "quantitative", "scale": {"type": "log", "domain": [20, 8960], "nice": false},
              "axis": {"title": "Rate", "values": [20, 30, 40, 50, 60, 70, 80, 90, 100, 200, 300, 400, 500, 600, 700, 800, 900, 1000, 2000, 3000, 4000, 5000, 6000, 7000, 8000],
                "labelExpr": "datum.value == 100 ? '10²' : (datum.value == 1000 ? '10³' : '')",
                "tickSize": {"condition": {"test": "datum.value == 100 || datum.value == 1000", "value": 27}, "value": -8},
                "tickWidth": {"condition": {"test": "datum.value == 100 || datum.value == 1000", "value": 3}, "value": 2}}},
            "detail": {"field": "p", "type": "nominal"},
            "color": {"field": "k", "type": "nominal", "scale": {"domain": ["B", "O", "G", "P", "Y"], "range": ["#1f77b4", "#ff7f0e", "#2ca02c", "#9467bd", "#bcbd22"]},
              "legend": {"title": null, "orient": "bottom-left", "symbolStrokeWidth": 3.5, "labelExpr": "datum.label == 'B' ? '2TLEV1RT (244)' : datum.label == 'O' ? '2VLEV1RT (198)' : datum.label == 'G' ? '2SHEV1RT (1,392)' : datum.label == 'P' ? 'Old Proxy' : 'New Proxy'"}},
            "strokeDash": {"field": "k", "type": "nominal", "scale": {"domain": ["B", "O", "G", "P", "Y"], "range": [[1, 0], [1, 0], [1, 0], [6, 4], [6, 4]]},
              "legend": {"title": null, "orient": "bottom-left", "symbolStrokeWidth": 3.5, "labelExpr": "datum.label == 'B' ? '2TLEV1RT (244)' : datum.label == 'O' ? '2VLEV1RT (198)' : datum.label == 'G' ? '2SHEV1RT (1,392)' : datum.label == 'P' ? 'Old Proxy' : 'New Proxy'"}}
          }}
      ]
    },
    {
      "width": 1796, "height": 669,
      "encoding": {"x": {"field": "t", "type": "quantitative", "scale": {"domain": [-0.6172, 5.9423], "nice": false, "zero": false}, "axis": {"orient": "bottom", "title": null, "labels": false, "values": [-0.5, 0, 0.5, 1, 1.5, 2, 2.5, 3, 3.5, 4, 4.5, 5, 5.5], "grid": true, "gridColor": "#b0b0b0", "gridWidth": {"condition": {"test": "datum.value % 1 !== 0", "value": 1.5}, "value": 2}, "gridDash": {"condition": {"test": "datum.value % 1 !== 0", "value": [8, 6]}, "value": []}, "tickSize": {"condition": {"test": "datum.value % 1 !== 0", "value": -8}, "value": 29}, "tickWidth": {"condition": {"test": "datum.value % 1 !== 0", "value": 2}, "value": 4}}}},
      "layer": [
        {"data": {"name": "shade"}, "mark": {"type": "rect", "color": "#ff0000", "opacity": 0.055}, "encoding": {"x2": {"field": "t2"}}},
        {"data": {"name": "vl"}, "mark": {"type": "rule", "color": "black", "strokeWidth": 2}, "encoding": {}},
        {"data": {"name": "volt"}, "mark": {"type": "line", "strokeWidth": 6, "interpolate": "step-after", "clip": true},
          "encoding": {
            "y": {"field": "v", "type": "quantitative", "scale": {"domain": [-20, 20], "nice": false, "zero": false}, "axis": {"title": "Volt", "values": [-20, -15, -10, -5, 0, 5, 10, 15, 20]}},
            "color": {"field": "s", "type": "nominal", "scale": {"domain": ["2P15VAVL", "2N15VAVL", "2P05VAVL"], "range": ["#1f77b4", "#ff7f0e", "#2ca02c"]}, "legend": {"title": null, "orient": "top-right"}}
          }}
      ]
    },
    {
      "width": 1796, "height": 669,
      "encoding": {"x": {"field": "t", "type": "quantitative", "scale": {"domain": [-0.6172, 5.9423], "nice": false, "zero": false}, "axis": {"orient": "bottom", "title": null, "labels": false, "values": [-0.5, 0, 0.5, 1, 1.5, 2, 2.5, 3, 3.5, 4, 4.5, 5, 5.5], "grid": true, "gridColor": "#b0b0b0", "gridWidth": {"condition": {"test": "datum.value % 1 !== 0", "value": 1.5}, "value": 2}, "gridDash": {"condition": {"test": "datum.value % 1 !== 0", "value": [8, 6]}, "value": []}, "tickSize": {"condition": {"test": "datum.value % 1 !== 0", "value": -8}, "value": 29}, "tickWidth": {"condition": {"test": "datum.value % 1 !== 0", "value": 2}, "value": 4}}}},
      "layer": [
        {"data": {"name": "shade"}, "mark": {"type": "rect", "color": "#ff0000", "opacity": 0.055}, "encoding": {"x2": {"field": "t2"}}},
        {"data": {"name": "vl"}, "mark": {"type": "rule", "color": "black", "strokeWidth": 2}, "encoding": {}},
        {"data": {"name": "hvflat"}, "transform": [{"fold": ["2IMHVLV", "2IMHBLV"], "as": ["s", "v"]}],
          "mark": {"type": "point", "filled": true, "size": 70, "opacity": 1, "clip": true},
          "encoding": {
            "y": {"field": "v", "type": "quantitative", "scale": {"domain": [0, 266], "nice": false, "zero": false}, "axis": {"title": "HV Monitor", "values": [0, 50, 100, 150, 200, 250]}},
            "color": {"field": "s", "type": "nominal", "scale": {"domain": ["2SPHBLV", "2SPHVLV", "2IMHVLV", "2IMHBLV"], "range": ["#1f77b4", "#ff7f0e", "#2ca02c", "#d62728"]},
              "legend": {"title": null, "orient": "top-right", "symbolType": "circle", "symbolSize": 80, "symbolStrokeWidth": 0, "symbolOffset": 20, "labelOffset": 36, "rowPadding": 15}}
          }},
        {"data": {"name": "hvpts"},
          "mark": {"type": "point", "filled": true, "size": 70, "opacity": 1, "clip": true},
          "encoding": {
            "y": {"field": "v", "type": "quantitative", "scale": {"domain": [0, 266], "nice": false, "zero": false}, "axis": {"title": "HV Monitor", "values": [0, 50, 100, 150, 200, 250]}},
            "color": {"field": "s", "type": "nominal", "scale": {"domain": ["2SPHBLV", "2SPHVLV", "2IMHVLV", "2IMHBLV"], "range": ["#1f77b4", "#ff7f0e", "#2ca02c", "#d62728"]},
              "legend": {"title": null, "orient": "top-right", "symbolType": "circle", "symbolSize": 80, "symbolStrokeWidth": 0, "symbolOffset": 20, "labelOffset": 36, "rowPadding": 15}}
          }}
      ]
    },
    {
      "width": 1796, "height": 669,
      "encoding": {"x": {"field": "t", "type": "quantitative", "scale": {"domain": [-0.6172, 5.9423], "nice": false, "zero": false}, "axis": {"orient": "bottom", "title": null, "labels": false, "values": [-0.5, 0, 0.5, 1, 1.5, 2, 2.5, 3, 3.5, 4, 4.5, 5, 5.5], "grid": true, "gridColor": "#b0b0b0", "gridWidth": {"condition": {"test": "datum.value % 1 !== 0", "value": 1.5}, "value": 2}, "gridDash": {"condition": {"test": "datum.value % 1 !== 0", "value": [8, 6]}, "value": []}, "tickSize": {"condition": {"test": "datum.value % 1 !== 0", "value": -8}, "value": 29}, "tickWidth": {"condition": {"test": "datum.value % 1 !== 0", "value": 2}, "value": 4}}}},
      "layer": [
        {"data": {"name": "shade"}, "mark": {"type": "rect", "color": "#ff0000", "opacity": 0.055}, "encoding": {"x2": {"field": "t2"}}},
        {"data": {"name": "vl"}, "mark": {"type": "rule", "color": "black", "strokeWidth": 2}, "encoding": {}},
        {"data": {"name": "det"}, "mark": {"type": "line", "strokeWidth": 6.5, "interpolate": "step-after", "clip": true},
          "encoding": {
            "y": {"field": "v", "type": "quantitative", "scale": {"domain": [-1.53, 18.52], "nice": false, "zero": false}, "axis": {"title": "Detector Temp", "values": [0, 2.5, 5, 7.5, 10, 12.5, 15, 17.5], "format": ".1f"}},
            "color": {"field": "s", "type": "nominal", "scale": {"domain": ["2SPINATM", "2SPHVATM", "2IMINATM", "2IMHVATM"], "range": ["#1f77b4", "#ff7f0e", "#2ca02c", "#d62728"]}, "legend": {"title": null, "orient": "top-right"}}
          }}
      ]
    },
    {
      "width": 1796, "height": 669,
      "encoding": {"x": {"field": "t", "type": "quantitative", "scale": {"domain": [-0.6172, 5.9423], "nice": false, "zero": false},
        "axis": {"orient": "bottom", "title": "2026-04-23 (113)", "titleFontSize": 32, "titlePadding": 6,
          "values": [-0.5, 0, 0.5, 1, 1.5, 2, 2.5, 3, 3.5, 4, 4.5, 5, 5.5],
          "labelExpr": "datum.value % 1 === 0 ? (((datum.value + 20) % 24) < 10 ? '0' : '') + ((datum.value + 20) % 24) + 'h' : '30'",
          "labelFontSize": {"condition": {"test": "datum.value % 1 !== 0", "value": 17}, "value": 28},
          "labelPadding": {"condition": {"test": "datum.value % 1 !== 0", "value": 17}, "value": 9},
          "grid": true, "gridColor": "#b0b0b0", "gridWidth": {"condition": {"test": "datum.value % 1 !== 0", "value": 1.5}, "value": 2}, "gridDash": {"condition": {"test": "datum.value % 1 !== 0", "value": [8, 6]}, "value": []}, "tickSize": {"condition": {"test": "datum.value % 1 !== 0", "value": -8}, "value": 29}, "tickWidth": {"condition": {"test": "datum.value % 1 !== 0", "value": 2}, "value": 4}}}},
      "layer": [
        {"data": {"name": "shade"}, "mark": {"type": "rect", "color": "#ff0000", "opacity": 0.055}, "encoding": {"x2": {"field": "t2"}}},
        {"data": {"name": "vl"}, "mark": {"type": "rule", "color": "black", "strokeWidth": 2}, "encoding": {}},
        {"data": {"name": "fea"}, "mark": {"type": "line", "strokeWidth": 7, "interpolate": "step-after", "clip": true},
          "encoding": {
            "y": {"field": "v", "type": "quantitative", "scale": {"domain": [-9.93, 1.46], "nice": false, "zero": false}, "axis": {"title": "FEA Temp", "values": [-8, -6, -4, -2, 0]}},
            "color": {"field": "s", "type": "nominal", "scale": {"domain": ["2FHTRMZT", "2FRADPYT", "2FEPRATM", "2FE00ATM"], "range": ["#1f77b4", "#ff7f0e", "#2ca02c", "#d62728"]}, "legend": {"title": null, "orient": "bottom-right"}}
          }}
      ]
    }
  ]
}
